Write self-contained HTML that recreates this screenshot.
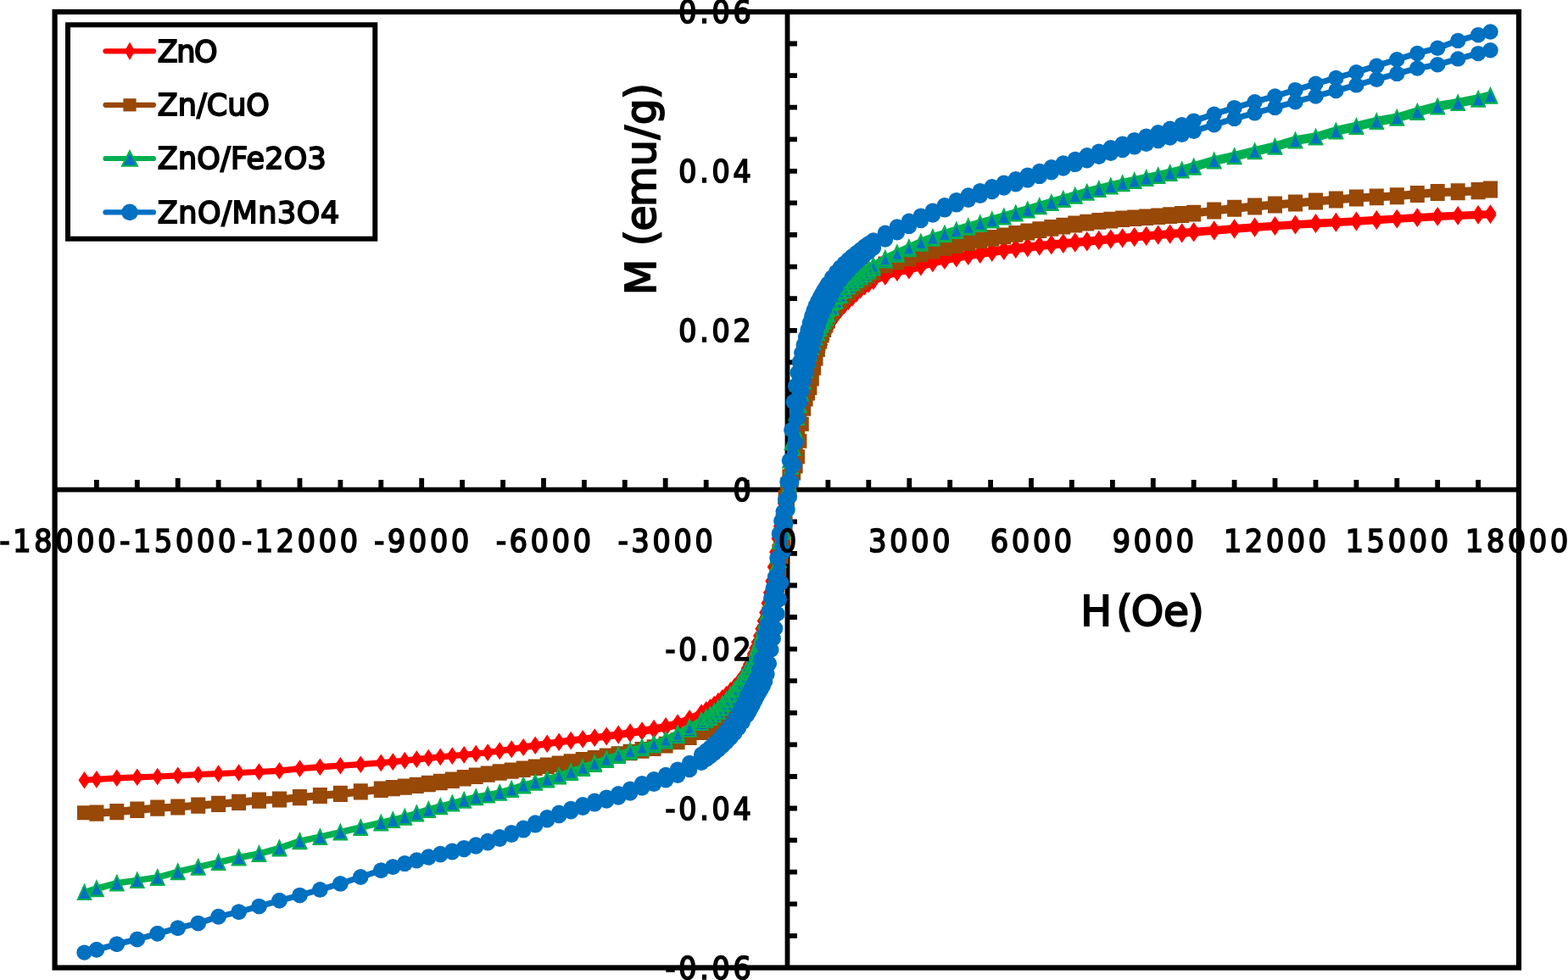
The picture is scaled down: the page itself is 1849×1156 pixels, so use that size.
<!DOCTYPE html>
<html><head><meta charset="utf-8"><title>M-H hysteresis</title>
<style>html,body{margin:0;padding:0;background:#fff;width:1849px;height:1156px;overflow:hidden}svg{display:block}</style>
</head><body>
<svg width="1849" height="1156" viewBox="0 0 1849 1156">
<rect width="1849" height="1156" fill="#fff"/>
<path d="M64.6 577.7H1791M928.5 14V1141.5" stroke="#000" stroke-width="5.8" fill="none"/>
<path d="M113.9 566V577 M161.8 566V577 M209.7 564V577 M257.6 566V577 M305.5 566V577 M353.5 564V577 M401.4 566V577 M449.3 566V577 M497.2 564V577 M545.1 566V577 M593.1 566V577 M641.0 564V577 M688.9 566V577 M736.8 566V577 M784.7 564V577 M832.7 566V577 M880.6 566V577 M976.4 566V577 M1024.3 566V577 M1072.3 564V577 M1120.2 566V577 M1168.1 566V577 M1216.0 564V577 M1263.9 566V577 M1311.9 566V577 M1359.8 564V577 M1407.7 566V577 M1455.6 566V577 M1503.5 564V577 M1551.5 566V577 M1599.4 566V577 M1647.3 564V577 M1695.2 566V577 M1743.1 566V577 M928.5 1103.9H940 M928.5 1066.3H940 M928.5 1028.7H940 M928.5 991.1H940 M928.5 953.5H940 M928.5 916.0H940 M928.5 878.4H940 M928.5 840.8H940 M928.5 803.2H940 M928.5 765.6H940 M928.5 728.0H940 M928.5 690.5H940 M928.5 652.9H940 M928.5 615.3H940 M928.5 540.1H940 M928.5 502.5H940 M928.5 464.9H940 M928.5 427.4H940 M928.5 389.8H940 M928.5 352.2H940 M928.5 314.6H940 M928.5 277.0H940 M928.5 239.4H940 M928.5 201.9H940 M928.5 164.3H940 M928.5 126.7H940 M928.5 89.1H940 M928.5 51.5H940" stroke="#000" stroke-width="5.8" fill="none"/>
<path d="M1757.5 251.5 L1743.1 252.2 L1719.2 253.2 L1695.2 254.3 L1671.3 255.5 L1647.3 256.9 L1623.3 258.3 L1599.4 259.7 L1575.4 261.0 L1551.5 262.3 L1527.5 263.7 L1503.5 265.2 L1479.6 266.8 L1455.6 268.5 L1431.7 270.4 L1407.7 272.3 L1393.7 273.5 L1379.7 274.6 L1365.7 275.8 L1351.7 276.9 L1337.7 278.1 L1323.7 279.4 L1309.8 280.6 L1295.8 281.9 L1281.8 283.2 L1267.8 284.4 L1253.8 285.7 L1239.8 287.1 L1225.8 288.5 L1211.8 290.0 L1197.8 291.6 L1183.8 293.4 L1169.8 295.3 L1155.8 297.3 L1141.8 299.4 L1127.8 301.8 L1113.9 304.3 L1099.9 307.1 L1085.9 311.0 L1071.9 315.3 L1057.9 318.2 L1043.9 322.1 L1029.9 327.2 L1024.3 329.9 L1019.5 332.7 L1014.8 336.0 L1010.0 339.9 L1005.2 344.4 L1000.4 349.0 L995.6 353.5 L990.8 358.4 L986.0 363.9 L981.2 370.0 L976.4 377.3 L974.0 381.5 L971.6 386.5 L969.2 392.4 L966.8 398.9 L964.4 405.7 L962.0 412.4 L959.6 419.0 L957.3 425.8 L954.9 432.9 L952.5 440.2 L950.1 447.4 L947.7 455.0 L945.3 463.4 L942.9 473.5 L940.5 485.8 L938.1 499.6 L935.7 514.3 L933.3 529.5 L930.9 546.2 L928.5 563.2 L926.1 579.0 L923.7 593.4 L921.3 607.1 L918.9 620.8 L916.5 635.2 L914.1 651.3 L911.7 668.8 L909.3 685.4 L906.9 699.3 L904.5 711.5 L902.1 722.6 L899.7 732.6 L897.4 741.7 L895.0 750.1 L892.6 757.7 L890.2 764.6 L887.8 771.2 L885.4 777.5 L883.0 783.4 L880.6 788.8 L875.8 797.6 L871.0 804.2 L866.2 809.7 L861.4 814.5 L856.6 818.9 L851.8 823.1 L847.0 827.0 L842.2 830.7 L837.5 834.2 L832.7 837.3 L827.1 840.5 L813.1 847.2 L799.1 852.4 L785.1 856.2 L771.1 859.0 L757.1 861.4 L743.1 863.5 L729.2 865.6 L715.2 867.6 L701.2 869.4 L687.2 871.2 L673.2 873.0 L659.2 874.8 L645.2 876.7 L631.2 878.8 L617.2 881.1 L603.2 883.4 L589.2 885.5 L575.2 887.4 L561.2 888.9 L547.2 890.2 L533.3 891.5 L519.3 892.7 L505.3 894.0 L491.3 895.5 L477.3 897.0 L463.3 898.4 L449.3 899.8 L425.3 901.6 L401.4 903.1 L377.4 904.6 L353.5 906.4 L329.5 909.1 L305.5 910.4 L281.6 911.4 L257.6 912.5 L233.7 913.6 L209.7 914.8 L185.7 915.9 L161.8 916.8 L137.8 917.7 L113.9 919.2 L99.5 920.3 L113.9 919.5 L137.8 917.9 L161.8 916.9 L185.7 916.1 L209.7 915.0 L233.7 913.8 L257.6 912.7 L281.6 911.6 L305.5 910.6 L329.5 909.4 L353.5 906.8 L377.4 904.9 L401.4 903.3 L425.3 901.8 L449.3 900.1 L463.3 898.8 L477.3 897.4 L491.3 895.9 L505.3 894.4 L519.3 893.1 L533.3 891.8 L547.2 890.6 L561.2 889.3 L575.2 887.8 L589.2 886.1 L603.2 884.1 L617.2 881.9 L631.2 879.8 L645.2 877.7 L659.2 875.9 L673.2 874.2 L687.2 872.6 L701.2 870.9 L715.2 869.3 L729.2 867.5 L743.1 865.5 L757.1 863.6 L771.1 861.4 L785.1 858.9 L799.1 855.6 L813.1 850.9 L827.1 844.8 L832.7 842.0 L837.5 839.1 L842.2 836.0 L847.0 832.6 L851.8 828.9 L856.6 824.9 L861.4 820.7 L866.2 816.4 L871.0 811.5 L875.8 805.9 L880.6 799.1 L883.0 794.9 L885.4 790.0 L887.8 784.4 L890.2 778.3 L892.6 772.0 L895.0 765.4 L897.4 758.2 L899.7 750.4 L902.1 741.8 L904.5 732.4 L906.9 722.0 L909.3 710.6 L911.7 698.0 L914.1 683.2 L916.5 666.0 L918.9 648.7 L921.3 633.3 L923.7 619.3 L926.1 605.6 L928.5 591.7 L930.9 577.0 L933.3 560.6 L935.7 543.6 L938.1 527.3 L940.5 512.4 L942.9 497.9 L945.3 484.5 L947.7 472.9 L950.1 463.5 L952.5 455.4 L954.9 448.0 L957.3 440.7 L959.6 433.5 L962.0 426.5 L964.4 419.8 L966.8 413.2 L969.2 406.4 L971.6 399.7 L974.0 393.3 L976.4 387.7 L981.2 379.0 L986.0 371.9 L990.8 365.9 L995.6 360.5 L1000.4 355.8 L1005.2 351.3 L1010.0 346.6 L1014.8 342.1 L1019.5 338.4 L1024.3 335.2 L1029.9 332.0 L1043.9 326.5 L1057.9 321.9 L1071.9 319.3 L1085.9 315.3 L1099.9 311.0 L1113.9 307.9 L1127.8 305.3 L1141.8 302.9 L1155.8 300.7 L1169.8 298.6 L1183.8 296.7 L1197.8 294.9 L1211.8 293.2 L1225.8 291.6 L1239.8 290.2 L1253.8 288.8 L1267.8 287.5 L1281.8 286.2 L1295.8 284.9 L1309.8 283.6 L1323.7 282.3 L1337.7 281.1 L1351.7 279.8 L1365.7 278.6 L1379.7 277.5 L1393.7 276.3 L1407.7 275.2 L1431.7 273.2 L1455.6 271.3 L1479.6 269.5 L1503.5 267.8 L1527.5 266.3 L1551.5 264.9 L1575.4 263.5 L1599.4 262.2 L1623.3 260.8 L1647.3 259.3 L1671.3 257.9 L1695.2 256.6 L1719.2 255.5 L1743.1 254.5 L1757.5 253.8" fill="none" stroke="#FF0000" stroke-width="7" stroke-linejoin="round" stroke-linecap="round"/>
<path d="M1757.5 241.3L1764.5 251.5L1757.5 261.7L1750.5 251.5ZM1743.1 242.0L1750.1 252.2L1743.1 262.4L1736.1 252.2ZM1719.2 243.0L1726.2 253.2L1719.2 263.4L1712.2 253.2ZM1695.2 244.1L1702.2 254.3L1695.2 264.5L1688.2 254.3ZM1671.3 245.3L1678.3 255.5L1671.3 265.7L1664.3 255.5ZM1647.3 246.7L1654.3 256.9L1647.3 267.1L1640.3 256.9ZM1623.3 248.1L1630.3 258.3L1623.3 268.5L1616.3 258.3ZM1599.4 249.5L1606.4 259.7L1599.4 269.9L1592.4 259.7ZM1575.4 250.8L1582.4 261.0L1575.4 271.2L1568.4 261.0ZM1551.5 252.1L1558.5 262.3L1551.5 272.5L1544.5 262.3ZM1527.5 253.5L1534.5 263.7L1527.5 273.9L1520.5 263.7ZM1503.5 255.0L1510.5 265.2L1503.5 275.4L1496.5 265.2ZM1479.6 256.6L1486.6 266.8L1479.6 277.0L1472.6 266.8ZM1455.6 258.3L1462.6 268.5L1455.6 278.7L1448.6 268.5ZM1431.7 260.2L1438.7 270.4L1431.7 280.6L1424.7 270.4ZM1407.7 262.1L1414.7 272.3L1407.7 282.5L1400.7 272.3ZM1393.7 263.3L1400.7 273.5L1393.7 283.7L1386.7 273.5ZM1379.7 264.4L1386.7 274.6L1379.7 284.8L1372.7 274.6ZM1365.7 265.6L1372.7 275.8L1365.7 286.0L1358.7 275.8ZM1351.7 266.7L1358.7 276.9L1351.7 287.1L1344.7 276.9ZM1337.7 267.9L1344.7 278.1L1337.7 288.3L1330.7 278.1ZM1323.7 269.2L1330.7 279.4L1323.7 289.6L1316.7 279.4ZM1309.8 270.4L1316.8 280.6L1309.8 290.8L1302.8 280.6ZM1295.8 271.7L1302.8 281.9L1295.8 292.1L1288.8 281.9ZM1281.8 273.0L1288.8 283.2L1281.8 293.4L1274.8 283.2ZM1267.8 274.2L1274.8 284.4L1267.8 294.6L1260.8 284.4ZM1253.8 275.5L1260.8 285.7L1253.8 295.9L1246.8 285.7ZM1239.8 276.9L1246.8 287.1L1239.8 297.3L1232.8 287.1ZM1225.8 278.3L1232.8 288.5L1225.8 298.7L1218.8 288.5ZM1211.8 279.8L1218.8 290.0L1211.8 300.2L1204.8 290.0ZM1197.8 281.4L1204.8 291.6L1197.8 301.8L1190.8 291.6ZM1183.8 283.2L1190.8 293.4L1183.8 303.6L1176.8 293.4ZM1169.8 285.1L1176.8 295.3L1169.8 305.5L1162.8 295.3ZM1155.8 287.1L1162.8 297.3L1155.8 307.5L1148.8 297.3ZM1141.8 289.2L1148.8 299.4L1141.8 309.6L1134.8 299.4ZM1127.8 291.6L1134.8 301.8L1127.8 312.0L1120.8 301.8ZM1113.9 294.1L1120.9 304.3L1113.9 314.5L1106.9 304.3ZM1099.9 296.9L1106.9 307.1L1099.9 317.3L1092.9 307.1ZM1085.9 300.8L1092.9 311.0L1085.9 321.2L1078.9 311.0ZM1071.9 305.1L1078.9 315.3L1071.9 325.5L1064.9 315.3ZM1057.9 308.0L1064.9 318.2L1057.9 328.4L1050.9 318.2ZM1043.9 311.9L1050.9 322.1L1043.9 332.3L1036.9 322.1ZM1029.9 317.0L1036.9 327.2L1029.9 337.4L1022.9 327.2ZM1024.3 319.7L1031.3 329.9L1024.3 340.1L1017.3 329.9ZM1019.5 322.5L1026.5 332.7L1019.5 342.9L1012.5 332.7ZM1014.8 325.8L1021.8 336.0L1014.8 346.2L1007.8 336.0ZM1010.0 329.7L1017.0 339.9L1010.0 350.1L1003.0 339.9ZM1005.2 334.2L1012.2 344.4L1005.2 354.6L998.2 344.4ZM1000.4 338.8L1007.4 349.0L1000.4 359.2L993.4 349.0ZM995.6 343.3L1002.6 353.5L995.6 363.7L988.6 353.5ZM990.8 348.2L997.8 358.4L990.8 368.6L983.8 358.4ZM986.0 353.7L993.0 363.9L986.0 374.1L979.0 363.9ZM981.2 359.8L988.2 370.0L981.2 380.2L974.2 370.0ZM976.4 367.1L983.4 377.3L976.4 387.5L969.4 377.3ZM974.0 371.3L981.0 381.5L974.0 391.7L967.0 381.5ZM971.6 376.3L978.6 386.5L971.6 396.7L964.6 386.5ZM969.2 382.2L976.2 392.4L969.2 402.6L962.2 392.4ZM966.8 388.7L973.8 398.9L966.8 409.1L959.8 398.9ZM964.4 395.5L971.4 405.7L964.4 415.9L957.4 405.7ZM962.0 402.2L969.0 412.4L962.0 422.6L955.0 412.4ZM959.6 408.8L966.6 419.0L959.6 429.2L952.6 419.0ZM957.3 415.6L964.3 425.8L957.3 436.0L950.3 425.8ZM954.9 422.7L961.9 432.9L954.9 443.1L947.9 432.9ZM952.5 430.0L959.5 440.2L952.5 450.4L945.5 440.2ZM950.1 437.2L957.1 447.4L950.1 457.6L943.1 447.4ZM947.7 444.8L954.7 455.0L947.7 465.2L940.7 455.0ZM945.3 453.2L952.3 463.4L945.3 473.6L938.3 463.4ZM942.9 463.3L949.9 473.5L942.9 483.7L935.9 473.5ZM940.5 475.6L947.5 485.8L940.5 496.0L933.5 485.8ZM938.1 489.4L945.1 499.6L938.1 509.8L931.1 499.6ZM935.7 504.1L942.7 514.3L935.7 524.5L928.7 514.3ZM933.3 519.3L940.3 529.5L933.3 539.7L926.3 529.5ZM930.9 536.0L937.9 546.2L930.9 556.4L923.9 546.2ZM928.5 553.0L935.5 563.2L928.5 573.4L921.5 563.2ZM926.1 568.8L933.1 579.0L926.1 589.2L919.1 579.0ZM923.7 583.2L930.7 593.4L923.7 603.6L916.7 593.4ZM921.3 596.9L928.3 607.1L921.3 617.3L914.3 607.1ZM918.9 610.6L925.9 620.8L918.9 631.0L911.9 620.8ZM916.5 625.0L923.5 635.2L916.5 645.4L909.5 635.2ZM914.1 641.1L921.1 651.3L914.1 661.5L907.1 651.3ZM911.7 658.6L918.7 668.8L911.7 679.0L904.7 668.8ZM909.3 675.2L916.3 685.4L909.3 695.6L902.3 685.4ZM906.9 689.1L913.9 699.3L906.9 709.5L899.9 699.3ZM904.5 701.3L911.5 711.5L904.5 721.7L897.5 711.5ZM902.1 712.4L909.1 722.6L902.1 732.8L895.1 722.6ZM899.7 722.4L906.7 732.6L899.7 742.8L892.7 732.6ZM897.4 731.5L904.4 741.7L897.4 751.9L890.4 741.7ZM895.0 739.9L902.0 750.1L895.0 760.3L888.0 750.1ZM892.6 747.5L899.6 757.7L892.6 767.9L885.6 757.7ZM890.2 754.4L897.2 764.6L890.2 774.8L883.2 764.6ZM887.8 761.0L894.8 771.2L887.8 781.4L880.8 771.2ZM885.4 767.3L892.4 777.5L885.4 787.7L878.4 777.5ZM883.0 773.2L890.0 783.4L883.0 793.6L876.0 783.4ZM880.6 778.6L887.6 788.8L880.6 799.0L873.6 788.8ZM875.8 787.4L882.8 797.6L875.8 807.8L868.8 797.6ZM871.0 794.0L878.0 804.2L871.0 814.4L864.0 804.2ZM866.2 799.5L873.2 809.7L866.2 819.9L859.2 809.7ZM861.4 804.3L868.4 814.5L861.4 824.7L854.4 814.5ZM856.6 808.7L863.6 818.9L856.6 829.1L849.6 818.9ZM851.8 812.9L858.8 823.1L851.8 833.3L844.8 823.1ZM847.0 816.8L854.0 827.0L847.0 837.2L840.0 827.0ZM842.2 820.5L849.2 830.7L842.2 840.9L835.2 830.7ZM837.5 824.0L844.5 834.2L837.5 844.4L830.5 834.2ZM832.7 827.1L839.7 837.3L832.7 847.5L825.7 837.3ZM827.1 830.3L834.1 840.5L827.1 850.7L820.1 840.5ZM813.1 837.0L820.1 847.2L813.1 857.4L806.1 847.2ZM799.1 842.2L806.1 852.4L799.1 862.6L792.1 852.4ZM785.1 846.0L792.1 856.2L785.1 866.4L778.1 856.2ZM771.1 848.8L778.1 859.0L771.1 869.2L764.1 859.0ZM757.1 851.2L764.1 861.4L757.1 871.6L750.1 861.4ZM743.1 853.3L750.1 863.5L743.1 873.7L736.1 863.5ZM729.2 855.4L736.2 865.6L729.2 875.8L722.2 865.6ZM715.2 857.4L722.2 867.6L715.2 877.8L708.2 867.6ZM701.2 859.2L708.2 869.4L701.2 879.6L694.2 869.4ZM687.2 861.0L694.2 871.2L687.2 881.4L680.2 871.2ZM673.2 862.8L680.2 873.0L673.2 883.2L666.2 873.0ZM659.2 864.6L666.2 874.8L659.2 885.0L652.2 874.8ZM645.2 866.5L652.2 876.7L645.2 886.9L638.2 876.7ZM631.2 868.6L638.2 878.8L631.2 889.0L624.2 878.8ZM617.2 870.9L624.2 881.1L617.2 891.3L610.2 881.1ZM603.2 873.2L610.2 883.4L603.2 893.6L596.2 883.4ZM589.2 875.3L596.2 885.5L589.2 895.7L582.2 885.5ZM575.2 877.2L582.2 887.4L575.2 897.6L568.2 887.4ZM561.2 878.7L568.2 888.9L561.2 899.1L554.2 888.9ZM547.2 880.0L554.2 890.2L547.2 900.4L540.2 890.2ZM533.3 881.3L540.3 891.5L533.3 901.7L526.3 891.5ZM519.3 882.5L526.3 892.7L519.3 902.9L512.3 892.7ZM505.3 883.8L512.3 894.0L505.3 904.2L498.3 894.0ZM491.3 885.3L498.3 895.5L491.3 905.7L484.3 895.5ZM477.3 886.8L484.3 897.0L477.3 907.2L470.3 897.0ZM463.3 888.2L470.3 898.4L463.3 908.6L456.3 898.4ZM449.3 889.6L456.3 899.8L449.3 910.0L442.3 899.8ZM425.3 891.4L432.3 901.6L425.3 911.8L418.3 901.6ZM401.4 892.9L408.4 903.1L401.4 913.3L394.4 903.1ZM377.4 894.4L384.4 904.6L377.4 914.8L370.4 904.6ZM353.5 896.2L360.5 906.4L353.5 916.6L346.5 906.4ZM329.5 898.9L336.5 909.1L329.5 919.3L322.5 909.1ZM305.5 900.2L312.5 910.4L305.5 920.6L298.5 910.4ZM281.6 901.2L288.6 911.4L281.6 921.6L274.6 911.4ZM257.6 902.3L264.6 912.5L257.6 922.7L250.6 912.5ZM233.7 903.4L240.7 913.6L233.7 923.8L226.7 913.6ZM209.7 904.6L216.7 914.8L209.7 925.0L202.7 914.8ZM185.7 905.7L192.7 915.9L185.7 926.1L178.7 915.9ZM161.8 906.6L168.8 916.8L161.8 927.0L154.8 916.8ZM137.8 907.5L144.8 917.7L137.8 927.9L130.8 917.7ZM113.9 909.0L120.9 919.2L113.9 929.4L106.9 919.2ZM99.5 910.1L106.5 920.3L99.5 930.5L92.5 920.3ZM113.9 909.3L120.9 919.5L113.9 929.7L106.9 919.5ZM137.8 907.7L144.8 917.9L137.8 928.1L130.8 917.9ZM161.8 906.7L168.8 916.9L161.8 927.1L154.8 916.9ZM185.7 905.9L192.7 916.1L185.7 926.3L178.7 916.1ZM209.7 904.8L216.7 915.0L209.7 925.2L202.7 915.0ZM233.7 903.6L240.7 913.8L233.7 924.0L226.7 913.8ZM257.6 902.5L264.6 912.7L257.6 922.9L250.6 912.7ZM281.6 901.4L288.6 911.6L281.6 921.8L274.6 911.6ZM305.5 900.4L312.5 910.6L305.5 920.8L298.5 910.6ZM329.5 899.2L336.5 909.4L329.5 919.6L322.5 909.4ZM353.5 896.6L360.5 906.8L353.5 917.0L346.5 906.8ZM377.4 894.7L384.4 904.9L377.4 915.1L370.4 904.9ZM401.4 893.1L408.4 903.3L401.4 913.5L394.4 903.3ZM425.3 891.6L432.3 901.8L425.3 912.0L418.3 901.8ZM449.3 889.9L456.3 900.1L449.3 910.3L442.3 900.1ZM463.3 888.6L470.3 898.8L463.3 909.0L456.3 898.8ZM477.3 887.2L484.3 897.4L477.3 907.6L470.3 897.4ZM491.3 885.7L498.3 895.9L491.3 906.1L484.3 895.9ZM505.3 884.2L512.3 894.4L505.3 904.6L498.3 894.4ZM519.3 882.9L526.3 893.1L519.3 903.3L512.3 893.1ZM533.3 881.6L540.3 891.8L533.3 902.0L526.3 891.8ZM547.2 880.4L554.2 890.6L547.2 900.8L540.2 890.6ZM561.2 879.1L568.2 889.3L561.2 899.5L554.2 889.3ZM575.2 877.6L582.2 887.8L575.2 898.0L568.2 887.8ZM589.2 875.9L596.2 886.1L589.2 896.3L582.2 886.1ZM603.2 873.9L610.2 884.1L603.2 894.3L596.2 884.1ZM617.2 871.7L624.2 881.9L617.2 892.1L610.2 881.9ZM631.2 869.6L638.2 879.8L631.2 890.0L624.2 879.8ZM645.2 867.5L652.2 877.7L645.2 887.9L638.2 877.7ZM659.2 865.7L666.2 875.9L659.2 886.1L652.2 875.9ZM673.2 864.0L680.2 874.2L673.2 884.4L666.2 874.2ZM687.2 862.4L694.2 872.6L687.2 882.8L680.2 872.6ZM701.2 860.7L708.2 870.9L701.2 881.1L694.2 870.9ZM715.2 859.1L722.2 869.3L715.2 879.5L708.2 869.3ZM729.2 857.3L736.2 867.5L729.2 877.7L722.2 867.5ZM743.1 855.3L750.1 865.5L743.1 875.7L736.1 865.5ZM757.1 853.4L764.1 863.6L757.1 873.8L750.1 863.6ZM771.1 851.2L778.1 861.4L771.1 871.6L764.1 861.4ZM785.1 848.7L792.1 858.9L785.1 869.1L778.1 858.9ZM799.1 845.4L806.1 855.6L799.1 865.8L792.1 855.6ZM813.1 840.7L820.1 850.9L813.1 861.1L806.1 850.9ZM827.1 834.6L834.1 844.8L827.1 855.0L820.1 844.8ZM832.7 831.8L839.7 842.0L832.7 852.2L825.7 842.0ZM837.5 828.9L844.5 839.1L837.5 849.3L830.5 839.1ZM842.2 825.8L849.2 836.0L842.2 846.2L835.2 836.0ZM847.0 822.4L854.0 832.6L847.0 842.8L840.0 832.6ZM851.8 818.7L858.8 828.9L851.8 839.1L844.8 828.9ZM856.6 814.7L863.6 824.9L856.6 835.1L849.6 824.9ZM861.4 810.5L868.4 820.7L861.4 830.9L854.4 820.7ZM866.2 806.2L873.2 816.4L866.2 826.6L859.2 816.4ZM871.0 801.3L878.0 811.5L871.0 821.7L864.0 811.5ZM875.8 795.7L882.8 805.9L875.8 816.1L868.8 805.9ZM880.6 788.9L887.6 799.1L880.6 809.3L873.6 799.1ZM883.0 784.7L890.0 794.9L883.0 805.1L876.0 794.9ZM885.4 779.8L892.4 790.0L885.4 800.2L878.4 790.0ZM887.8 774.2L894.8 784.4L887.8 794.6L880.8 784.4ZM890.2 768.1L897.2 778.3L890.2 788.5L883.2 778.3ZM892.6 761.8L899.6 772.0L892.6 782.2L885.6 772.0ZM895.0 755.2L902.0 765.4L895.0 775.6L888.0 765.4ZM897.4 748.0L904.4 758.2L897.4 768.4L890.4 758.2ZM899.7 740.2L906.7 750.4L899.7 760.6L892.7 750.4ZM902.1 731.6L909.1 741.8L902.1 752.0L895.1 741.8ZM904.5 722.2L911.5 732.4L904.5 742.6L897.5 732.4ZM906.9 711.8L913.9 722.0L906.9 732.2L899.9 722.0ZM909.3 700.4L916.3 710.6L909.3 720.8L902.3 710.6ZM911.7 687.8L918.7 698.0L911.7 708.2L904.7 698.0ZM914.1 673.0L921.1 683.2L914.1 693.4L907.1 683.2ZM916.5 655.8L923.5 666.0L916.5 676.2L909.5 666.0ZM918.9 638.5L925.9 648.7L918.9 658.9L911.9 648.7ZM921.3 623.1L928.3 633.3L921.3 643.5L914.3 633.3ZM923.7 609.1L930.7 619.3L923.7 629.5L916.7 619.3ZM926.1 595.4L933.1 605.6L926.1 615.8L919.1 605.6ZM928.5 581.5L935.5 591.7L928.5 601.9L921.5 591.7ZM930.9 566.8L937.9 577.0L930.9 587.2L923.9 577.0ZM933.3 550.4L940.3 560.6L933.3 570.8L926.3 560.6ZM935.7 533.4L942.7 543.6L935.7 553.8L928.7 543.6ZM938.1 517.1L945.1 527.3L938.1 537.5L931.1 527.3ZM940.5 502.2L947.5 512.4L940.5 522.6L933.5 512.4ZM942.9 487.7L949.9 497.9L942.9 508.1L935.9 497.9ZM945.3 474.3L952.3 484.5L945.3 494.7L938.3 484.5ZM947.7 462.7L954.7 472.9L947.7 483.1L940.7 472.9ZM950.1 453.3L957.1 463.5L950.1 473.7L943.1 463.5ZM952.5 445.2L959.5 455.4L952.5 465.6L945.5 455.4ZM954.9 437.8L961.9 448.0L954.9 458.2L947.9 448.0ZM957.3 430.5L964.3 440.7L957.3 450.9L950.3 440.7ZM959.6 423.3L966.6 433.5L959.6 443.7L952.6 433.5ZM962.0 416.3L969.0 426.5L962.0 436.7L955.0 426.5ZM964.4 409.6L971.4 419.8L964.4 430.0L957.4 419.8ZM966.8 403.0L973.8 413.2L966.8 423.4L959.8 413.2ZM969.2 396.2L976.2 406.4L969.2 416.6L962.2 406.4ZM971.6 389.5L978.6 399.7L971.6 409.9L964.6 399.7ZM974.0 383.1L981.0 393.3L974.0 403.5L967.0 393.3ZM976.4 377.5L983.4 387.7L976.4 397.9L969.4 387.7ZM981.2 368.8L988.2 379.0L981.2 389.2L974.2 379.0ZM986.0 361.7L993.0 371.9L986.0 382.1L979.0 371.9ZM990.8 355.7L997.8 365.9L990.8 376.1L983.8 365.9ZM995.6 350.3L1002.6 360.5L995.6 370.7L988.6 360.5ZM1000.4 345.6L1007.4 355.8L1000.4 366.0L993.4 355.8ZM1005.2 341.1L1012.2 351.3L1005.2 361.5L998.2 351.3ZM1010.0 336.4L1017.0 346.6L1010.0 356.8L1003.0 346.6ZM1014.8 331.9L1021.8 342.1L1014.8 352.3L1007.8 342.1ZM1019.5 328.2L1026.5 338.4L1019.5 348.6L1012.5 338.4ZM1024.3 325.0L1031.3 335.2L1024.3 345.4L1017.3 335.2ZM1029.9 321.8L1036.9 332.0L1029.9 342.2L1022.9 332.0ZM1043.9 316.3L1050.9 326.5L1043.9 336.7L1036.9 326.5ZM1057.9 311.7L1064.9 321.9L1057.9 332.1L1050.9 321.9ZM1071.9 309.1L1078.9 319.3L1071.9 329.5L1064.9 319.3ZM1085.9 305.1L1092.9 315.3L1085.9 325.5L1078.9 315.3ZM1099.9 300.8L1106.9 311.0L1099.9 321.2L1092.9 311.0ZM1113.9 297.7L1120.9 307.9L1113.9 318.1L1106.9 307.9ZM1127.8 295.1L1134.8 305.3L1127.8 315.5L1120.8 305.3ZM1141.8 292.7L1148.8 302.9L1141.8 313.1L1134.8 302.9ZM1155.8 290.5L1162.8 300.7L1155.8 310.9L1148.8 300.7ZM1169.8 288.4L1176.8 298.6L1169.8 308.8L1162.8 298.6ZM1183.8 286.5L1190.8 296.7L1183.8 306.9L1176.8 296.7ZM1197.8 284.7L1204.8 294.9L1197.8 305.1L1190.8 294.9ZM1211.8 283.0L1218.8 293.2L1211.8 303.4L1204.8 293.2ZM1225.8 281.4L1232.8 291.6L1225.8 301.8L1218.8 291.6ZM1239.8 280.0L1246.8 290.2L1239.8 300.4L1232.8 290.2ZM1253.8 278.6L1260.8 288.8L1253.8 299.0L1246.8 288.8ZM1267.8 277.3L1274.8 287.5L1267.8 297.7L1260.8 287.5ZM1281.8 276.0L1288.8 286.2L1281.8 296.4L1274.8 286.2ZM1295.8 274.7L1302.8 284.9L1295.8 295.1L1288.8 284.9ZM1309.8 273.4L1316.8 283.6L1309.8 293.8L1302.8 283.6ZM1323.7 272.1L1330.7 282.3L1323.7 292.5L1316.7 282.3ZM1337.7 270.9L1344.7 281.1L1337.7 291.3L1330.7 281.1ZM1351.7 269.6L1358.7 279.8L1351.7 290.0L1344.7 279.8ZM1365.7 268.4L1372.7 278.6L1365.7 288.8L1358.7 278.6ZM1379.7 267.3L1386.7 277.5L1379.7 287.7L1372.7 277.5ZM1393.7 266.1L1400.7 276.3L1393.7 286.5L1386.7 276.3ZM1407.7 265.0L1414.7 275.2L1407.7 285.4L1400.7 275.2ZM1431.7 263.0L1438.7 273.2L1431.7 283.4L1424.7 273.2ZM1455.6 261.1L1462.6 271.3L1455.6 281.5L1448.6 271.3ZM1479.6 259.3L1486.6 269.5L1479.6 279.7L1472.6 269.5ZM1503.5 257.6L1510.5 267.8L1503.5 278.0L1496.5 267.8ZM1527.5 256.1L1534.5 266.3L1527.5 276.5L1520.5 266.3ZM1551.5 254.7L1558.5 264.9L1551.5 275.1L1544.5 264.9ZM1575.4 253.3L1582.4 263.5L1575.4 273.7L1568.4 263.5ZM1599.4 252.0L1606.4 262.2L1599.4 272.4L1592.4 262.2ZM1623.3 250.6L1630.3 260.8L1623.3 271.0L1616.3 260.8ZM1647.3 249.1L1654.3 259.3L1647.3 269.5L1640.3 259.3ZM1671.3 247.7L1678.3 257.9L1671.3 268.1L1664.3 257.9ZM1695.2 246.4L1702.2 256.6L1695.2 266.8L1688.2 256.6ZM1719.2 245.3L1726.2 255.5L1719.2 265.7L1712.2 255.5ZM1743.1 244.3L1750.1 254.5L1743.1 264.7L1736.1 254.5ZM1757.5 243.6L1764.5 253.8L1757.5 264.0L1750.5 253.8Z" fill="#FF0000"/>
<path d="M1757.5 221.9 L1743.1 223.6 L1719.2 224.7 L1695.2 225.5 L1671.3 227.5 L1647.3 229.7 L1623.3 230.9 L1599.4 232.1 L1575.4 234.0 L1551.5 236.1 L1527.5 238.1 L1503.5 240.1 L1479.6 242.1 L1455.6 244.3 L1431.7 247.1 L1407.7 250.2 L1393.7 251.6 L1379.7 252.8 L1365.7 253.9 L1351.7 254.9 L1337.7 255.9 L1323.7 257.0 L1309.8 258.2 L1295.8 259.6 L1281.8 261.3 L1267.8 263.1 L1253.8 265.2 L1239.8 267.4 L1225.8 269.7 L1211.8 272.1 L1197.8 274.5 L1183.8 276.9 L1169.8 279.4 L1155.8 282.0 L1141.8 284.8 L1127.8 287.7 L1113.9 290.8 L1099.9 294.1 L1085.9 298.0 L1071.9 302.6 L1057.9 306.9 L1043.9 311.0 L1029.9 318.1 L1024.3 322.1 L1019.5 325.6 L1014.8 329.4 L1010.0 333.2 L1005.2 337.1 L1000.4 341.3 L995.6 345.8 L990.8 350.5 L986.0 356.0 L981.2 362.8 L976.4 371.1 L974.0 375.8 L971.6 380.7 L969.2 386.1 L966.8 392.1 L964.4 399.2 L962.0 407.9 L959.6 418.3 L957.3 429.4 L954.9 441.8 L952.5 453.3 L950.1 460.6 L947.7 467.1 L945.3 476.7 L942.9 493.6 L940.5 512.8 L938.1 533.0 L935.7 545.5 L933.3 554.2 L930.9 562.1 L928.5 571.8 L926.1 586.8 L923.7 608.9 L921.3 630.5 L918.9 649.9 L916.5 668.5 L914.1 685.1 L911.7 699.4 L909.3 712.3 L906.9 724.1 L904.5 734.7 L902.1 744.4 L899.7 753.3 L897.4 761.6 L895.0 769.2 L892.6 776.2 L890.2 782.5 L887.8 788.4 L885.4 794.1 L883.0 799.4 L880.6 804.4 L875.8 813.3 L871.0 820.8 L866.2 827.6 L861.4 833.8 L856.6 839.3 L851.8 844.1 L847.0 848.2 L842.2 851.7 L837.5 854.9 L832.7 857.8 L827.1 860.9 L813.1 867.3 L799.1 872.7 L785.1 877.2 L771.1 880.8 L757.1 883.6 L743.1 886.2 L729.2 888.7 L715.2 891.1 L701.2 893.4 L687.2 895.6 L673.2 897.8 L659.2 899.9 L645.2 902.0 L631.2 904.0 L617.2 906.0 L603.2 907.9 L589.2 909.8 L575.2 911.9 L561.2 914.1 L547.2 916.5 L533.3 918.9 L519.3 921.2 L505.3 923.3 L491.3 925.2 L477.3 926.9 L463.3 928.5 L449.3 930.0 L425.3 932.7 L401.4 935.3 L377.4 937.4 L353.5 939.5 L329.5 941.9 L305.5 943.0 L281.6 945.2 L257.6 947.2 L233.7 949.1 L209.7 950.9 L185.7 952.0 L161.8 954.1 L137.8 956.4 L113.9 958.1 L99.5 958.7 L113.9 960.2 L137.8 958.7 L161.8 956.4 L185.7 954.2 L209.7 953.1 L233.7 951.3 L257.6 949.4 L281.6 947.4 L305.5 945.2 L329.5 944.1 L353.5 941.8 L377.4 939.6 L401.4 937.6 L425.3 935.1 L449.3 932.4 L463.3 930.8 L477.3 929.2 L491.3 927.6 L505.3 925.7 L519.3 923.7 L533.3 921.4 L547.2 919.0 L561.2 916.6 L575.2 914.3 L589.2 912.3 L603.2 910.3 L617.2 908.4 L631.2 906.5 L645.2 904.5 L659.2 902.4 L673.2 900.2 L687.2 898.1 L701.2 895.9 L715.2 893.6 L729.2 891.2 L743.1 888.7 L757.1 886.2 L771.1 883.4 L785.1 880.0 L799.1 875.8 L813.1 870.6 L827.1 864.4 L832.7 861.5 L837.5 858.8 L842.2 855.8 L847.0 852.4 L851.8 848.7 L856.6 844.4 L861.4 839.4 L866.2 833.6 L871.0 827.2 L875.8 820.1 L880.6 812.1 L883.0 807.6 L885.4 802.7 L887.8 797.4 L890.2 791.9 L892.6 786.0 L895.0 779.8 L897.4 773.0 L899.7 765.6 L902.1 757.5 L904.5 748.7 L906.9 739.2 L909.3 728.9 L911.7 717.4 L914.1 704.7 L916.5 690.9 L918.9 674.9 L921.3 656.7 L923.7 637.4 L926.1 616.7 L928.5 593.9 L930.9 576.8 L933.3 566.3 L935.7 558.2 L938.1 549.9 L940.5 538.8 L942.9 520.2 L945.3 500.3 L947.7 482.3 L950.1 471.0 L952.5 464.1 L954.9 457.4 L957.3 447.1 L959.6 434.2 L962.0 423.0 L964.4 412.4 L966.8 403.2 L969.2 395.8 L971.6 389.5 L974.0 384.0 L976.4 379.0 L981.2 369.8 L986.0 362.1 L990.8 355.9 L995.6 350.7 L1000.4 346.1 L1005.2 341.7 L1010.0 337.7 L1014.8 333.8 L1019.5 330.0 L1024.3 326.3 L1029.9 322.3 L1043.9 314.1 L1057.9 309.9 L1071.9 305.7 L1085.9 301.1 L1099.9 297.0 L1113.9 293.6 L1127.8 290.5 L1141.8 287.5 L1155.8 284.8 L1169.8 282.2 L1183.8 279.7 L1197.8 277.3 L1211.8 274.9 L1225.8 272.5 L1239.8 270.2 L1253.8 268.0 L1267.8 265.9 L1281.8 264.0 L1295.8 262.3 L1309.8 260.9 L1323.7 259.6 L1337.7 258.6 L1351.7 257.6 L1365.7 256.6 L1379.7 255.5 L1393.7 254.4 L1407.7 253.0 L1431.7 250.0 L1455.6 247.2 L1479.6 245.0 L1503.5 243.0 L1527.5 241.0 L1551.5 239.0 L1575.4 237.0 L1599.4 235.1 L1623.3 233.8 L1647.3 232.7 L1671.3 230.6 L1695.2 228.6 L1719.2 227.7 L1743.1 226.7 L1757.5 225.1" fill="none" stroke="#984807" stroke-width="7" stroke-linejoin="round" stroke-linecap="round"/>
<path d="M1749.0 213.4h17.0v17.0h-17.0ZM1734.6 215.1h17.0v17.0h-17.0ZM1710.7 216.2h17.0v17.0h-17.0ZM1686.7 217.0h17.0v17.0h-17.0ZM1662.8 219.0h17.0v17.0h-17.0ZM1638.8 221.2h17.0v17.0h-17.0ZM1614.8 222.4h17.0v17.0h-17.0ZM1590.9 223.6h17.0v17.0h-17.0ZM1566.9 225.5h17.0v17.0h-17.0ZM1543.0 227.6h17.0v17.0h-17.0ZM1519.0 229.6h17.0v17.0h-17.0ZM1495.0 231.6h17.0v17.0h-17.0ZM1471.1 233.6h17.0v17.0h-17.0ZM1447.1 235.8h17.0v17.0h-17.0ZM1423.2 238.6h17.0v17.0h-17.0ZM1399.2 241.7h17.0v17.0h-17.0ZM1385.2 243.1h17.0v17.0h-17.0ZM1371.2 244.3h17.0v17.0h-17.0ZM1357.2 245.4h17.0v17.0h-17.0ZM1343.2 246.4h17.0v17.0h-17.0ZM1329.2 247.4h17.0v17.0h-17.0ZM1315.2 248.5h17.0v17.0h-17.0ZM1301.3 249.7h17.0v17.0h-17.0ZM1287.3 251.1h17.0v17.0h-17.0ZM1273.3 252.8h17.0v17.0h-17.0ZM1259.3 254.6h17.0v17.0h-17.0ZM1245.3 256.7h17.0v17.0h-17.0ZM1231.3 258.9h17.0v17.0h-17.0ZM1217.3 261.2h17.0v17.0h-17.0ZM1203.3 263.6h17.0v17.0h-17.0ZM1189.3 266.0h17.0v17.0h-17.0ZM1175.3 268.4h17.0v17.0h-17.0ZM1161.3 270.9h17.0v17.0h-17.0ZM1147.3 273.5h17.0v17.0h-17.0ZM1133.3 276.3h17.0v17.0h-17.0ZM1119.3 279.2h17.0v17.0h-17.0ZM1105.4 282.3h17.0v17.0h-17.0ZM1091.4 285.6h17.0v17.0h-17.0ZM1077.4 289.5h17.0v17.0h-17.0ZM1063.4 294.1h17.0v17.0h-17.0ZM1049.4 298.4h17.0v17.0h-17.0ZM1035.4 302.5h17.0v17.0h-17.0ZM1021.4 309.6h17.0v17.0h-17.0ZM1015.8 313.6h17.0v17.0h-17.0ZM1011.0 317.1h17.0v17.0h-17.0ZM1006.3 320.9h17.0v17.0h-17.0ZM1001.5 324.7h17.0v17.0h-17.0ZM996.7 328.6h17.0v17.0h-17.0ZM991.9 332.8h17.0v17.0h-17.0ZM987.1 337.3h17.0v17.0h-17.0ZM982.3 342.0h17.0v17.0h-17.0ZM977.5 347.5h17.0v17.0h-17.0ZM972.7 354.3h17.0v17.0h-17.0ZM967.9 362.6h17.0v17.0h-17.0ZM965.5 367.3h17.0v17.0h-17.0ZM963.1 372.2h17.0v17.0h-17.0ZM960.7 377.6h17.0v17.0h-17.0ZM958.3 383.6h17.0v17.0h-17.0ZM955.9 390.7h17.0v17.0h-17.0ZM953.5 399.4h17.0v17.0h-17.0ZM951.1 409.8h17.0v17.0h-17.0ZM948.8 420.9h17.0v17.0h-17.0ZM946.4 433.3h17.0v17.0h-17.0ZM944.0 444.8h17.0v17.0h-17.0ZM941.6 452.1h17.0v17.0h-17.0ZM939.2 458.6h17.0v17.0h-17.0ZM936.8 468.2h17.0v17.0h-17.0ZM934.4 485.1h17.0v17.0h-17.0ZM932.0 504.3h17.0v17.0h-17.0ZM929.6 524.5h17.0v17.0h-17.0ZM927.2 537.0h17.0v17.0h-17.0ZM924.8 545.7h17.0v17.0h-17.0ZM922.4 553.6h17.0v17.0h-17.0ZM920.0 563.3h17.0v17.0h-17.0ZM917.6 578.3h17.0v17.0h-17.0ZM915.2 600.4h17.0v17.0h-17.0ZM912.8 622.0h17.0v17.0h-17.0ZM910.4 641.4h17.0v17.0h-17.0ZM908.0 660.0h17.0v17.0h-17.0ZM905.6 676.6h17.0v17.0h-17.0ZM903.2 690.9h17.0v17.0h-17.0ZM900.8 703.8h17.0v17.0h-17.0ZM898.4 715.6h17.0v17.0h-17.0ZM896.0 726.2h17.0v17.0h-17.0ZM893.6 735.9h17.0v17.0h-17.0ZM891.2 744.8h17.0v17.0h-17.0ZM888.9 753.1h17.0v17.0h-17.0ZM886.5 760.7h17.0v17.0h-17.0ZM884.1 767.7h17.0v17.0h-17.0ZM881.7 774.0h17.0v17.0h-17.0ZM879.3 779.9h17.0v17.0h-17.0ZM876.9 785.6h17.0v17.0h-17.0ZM874.5 790.9h17.0v17.0h-17.0ZM872.1 795.9h17.0v17.0h-17.0ZM867.3 804.8h17.0v17.0h-17.0ZM862.5 812.3h17.0v17.0h-17.0ZM857.7 819.1h17.0v17.0h-17.0ZM852.9 825.3h17.0v17.0h-17.0ZM848.1 830.8h17.0v17.0h-17.0ZM843.3 835.6h17.0v17.0h-17.0ZM838.5 839.7h17.0v17.0h-17.0ZM833.7 843.2h17.0v17.0h-17.0ZM829.0 846.4h17.0v17.0h-17.0ZM824.2 849.3h17.0v17.0h-17.0ZM818.6 852.4h17.0v17.0h-17.0ZM804.6 858.8h17.0v17.0h-17.0ZM790.6 864.2h17.0v17.0h-17.0ZM776.6 868.7h17.0v17.0h-17.0ZM762.6 872.3h17.0v17.0h-17.0ZM748.6 875.1h17.0v17.0h-17.0ZM734.6 877.7h17.0v17.0h-17.0ZM720.7 880.2h17.0v17.0h-17.0ZM706.7 882.6h17.0v17.0h-17.0ZM692.7 884.9h17.0v17.0h-17.0ZM678.7 887.1h17.0v17.0h-17.0ZM664.7 889.3h17.0v17.0h-17.0ZM650.7 891.4h17.0v17.0h-17.0ZM636.7 893.5h17.0v17.0h-17.0ZM622.7 895.5h17.0v17.0h-17.0ZM608.7 897.5h17.0v17.0h-17.0ZM594.7 899.4h17.0v17.0h-17.0ZM580.7 901.3h17.0v17.0h-17.0ZM566.7 903.4h17.0v17.0h-17.0ZM552.7 905.6h17.0v17.0h-17.0ZM538.7 908.0h17.0v17.0h-17.0ZM524.8 910.4h17.0v17.0h-17.0ZM510.8 912.7h17.0v17.0h-17.0ZM496.8 914.8h17.0v17.0h-17.0ZM482.8 916.7h17.0v17.0h-17.0ZM468.8 918.4h17.0v17.0h-17.0ZM454.8 920.0h17.0v17.0h-17.0ZM440.8 921.5h17.0v17.0h-17.0ZM416.8 924.2h17.0v17.0h-17.0ZM392.9 926.8h17.0v17.0h-17.0ZM368.9 928.9h17.0v17.0h-17.0ZM345.0 931.0h17.0v17.0h-17.0ZM321.0 933.4h17.0v17.0h-17.0ZM297.0 934.5h17.0v17.0h-17.0ZM273.1 936.7h17.0v17.0h-17.0ZM249.1 938.7h17.0v17.0h-17.0ZM225.2 940.6h17.0v17.0h-17.0ZM201.2 942.4h17.0v17.0h-17.0ZM177.2 943.5h17.0v17.0h-17.0ZM153.3 945.6h17.0v17.0h-17.0ZM129.3 947.9h17.0v17.0h-17.0ZM105.4 949.6h17.0v17.0h-17.0ZM91.0 950.2h17.0v17.0h-17.0ZM105.4 951.7h17.0v17.0h-17.0ZM129.3 950.2h17.0v17.0h-17.0ZM153.3 947.9h17.0v17.0h-17.0ZM177.2 945.7h17.0v17.0h-17.0ZM201.2 944.6h17.0v17.0h-17.0ZM225.2 942.8h17.0v17.0h-17.0ZM249.1 940.9h17.0v17.0h-17.0ZM273.1 938.9h17.0v17.0h-17.0ZM297.0 936.7h17.0v17.0h-17.0ZM321.0 935.6h17.0v17.0h-17.0ZM345.0 933.3h17.0v17.0h-17.0ZM368.9 931.1h17.0v17.0h-17.0ZM392.9 929.1h17.0v17.0h-17.0ZM416.8 926.6h17.0v17.0h-17.0ZM440.8 923.9h17.0v17.0h-17.0ZM454.8 922.3h17.0v17.0h-17.0ZM468.8 920.7h17.0v17.0h-17.0ZM482.8 919.1h17.0v17.0h-17.0ZM496.8 917.2h17.0v17.0h-17.0ZM510.8 915.2h17.0v17.0h-17.0ZM524.8 912.9h17.0v17.0h-17.0ZM538.7 910.5h17.0v17.0h-17.0ZM552.7 908.1h17.0v17.0h-17.0ZM566.7 905.8h17.0v17.0h-17.0ZM580.7 903.8h17.0v17.0h-17.0ZM594.7 901.8h17.0v17.0h-17.0ZM608.7 899.9h17.0v17.0h-17.0ZM622.7 898.0h17.0v17.0h-17.0ZM636.7 896.0h17.0v17.0h-17.0ZM650.7 893.9h17.0v17.0h-17.0ZM664.7 891.7h17.0v17.0h-17.0ZM678.7 889.6h17.0v17.0h-17.0ZM692.7 887.4h17.0v17.0h-17.0ZM706.7 885.1h17.0v17.0h-17.0ZM720.7 882.7h17.0v17.0h-17.0ZM734.6 880.2h17.0v17.0h-17.0ZM748.6 877.7h17.0v17.0h-17.0ZM762.6 874.9h17.0v17.0h-17.0ZM776.6 871.5h17.0v17.0h-17.0ZM790.6 867.3h17.0v17.0h-17.0ZM804.6 862.1h17.0v17.0h-17.0ZM818.6 855.9h17.0v17.0h-17.0ZM824.2 853.0h17.0v17.0h-17.0ZM829.0 850.3h17.0v17.0h-17.0ZM833.7 847.3h17.0v17.0h-17.0ZM838.5 843.9h17.0v17.0h-17.0ZM843.3 840.2h17.0v17.0h-17.0ZM848.1 835.9h17.0v17.0h-17.0ZM852.9 830.9h17.0v17.0h-17.0ZM857.7 825.1h17.0v17.0h-17.0ZM862.5 818.7h17.0v17.0h-17.0ZM867.3 811.6h17.0v17.0h-17.0ZM872.1 803.6h17.0v17.0h-17.0ZM874.5 799.1h17.0v17.0h-17.0ZM876.9 794.2h17.0v17.0h-17.0ZM879.3 788.9h17.0v17.0h-17.0ZM881.7 783.4h17.0v17.0h-17.0ZM884.1 777.5h17.0v17.0h-17.0ZM886.5 771.3h17.0v17.0h-17.0ZM888.9 764.5h17.0v17.0h-17.0ZM891.2 757.1h17.0v17.0h-17.0ZM893.6 749.0h17.0v17.0h-17.0ZM896.0 740.2h17.0v17.0h-17.0ZM898.4 730.7h17.0v17.0h-17.0ZM900.8 720.4h17.0v17.0h-17.0ZM903.2 708.9h17.0v17.0h-17.0ZM905.6 696.2h17.0v17.0h-17.0ZM908.0 682.4h17.0v17.0h-17.0ZM910.4 666.4h17.0v17.0h-17.0ZM912.8 648.2h17.0v17.0h-17.0ZM915.2 628.9h17.0v17.0h-17.0ZM917.6 608.2h17.0v17.0h-17.0ZM920.0 585.4h17.0v17.0h-17.0ZM922.4 568.3h17.0v17.0h-17.0ZM924.8 557.8h17.0v17.0h-17.0ZM927.2 549.7h17.0v17.0h-17.0ZM929.6 541.4h17.0v17.0h-17.0ZM932.0 530.3h17.0v17.0h-17.0ZM934.4 511.7h17.0v17.0h-17.0ZM936.8 491.8h17.0v17.0h-17.0ZM939.2 473.8h17.0v17.0h-17.0ZM941.6 462.5h17.0v17.0h-17.0ZM944.0 455.6h17.0v17.0h-17.0ZM946.4 448.9h17.0v17.0h-17.0ZM948.8 438.6h17.0v17.0h-17.0ZM951.1 425.7h17.0v17.0h-17.0ZM953.5 414.5h17.0v17.0h-17.0ZM955.9 403.9h17.0v17.0h-17.0ZM958.3 394.7h17.0v17.0h-17.0ZM960.7 387.3h17.0v17.0h-17.0ZM963.1 381.0h17.0v17.0h-17.0ZM965.5 375.5h17.0v17.0h-17.0ZM967.9 370.5h17.0v17.0h-17.0ZM972.7 361.3h17.0v17.0h-17.0ZM977.5 353.6h17.0v17.0h-17.0ZM982.3 347.4h17.0v17.0h-17.0ZM987.1 342.2h17.0v17.0h-17.0ZM991.9 337.6h17.0v17.0h-17.0ZM996.7 333.2h17.0v17.0h-17.0ZM1001.5 329.2h17.0v17.0h-17.0ZM1006.3 325.3h17.0v17.0h-17.0ZM1011.0 321.5h17.0v17.0h-17.0ZM1015.8 317.8h17.0v17.0h-17.0ZM1021.4 313.8h17.0v17.0h-17.0ZM1035.4 305.6h17.0v17.0h-17.0ZM1049.4 301.4h17.0v17.0h-17.0ZM1063.4 297.2h17.0v17.0h-17.0ZM1077.4 292.6h17.0v17.0h-17.0ZM1091.4 288.5h17.0v17.0h-17.0ZM1105.4 285.1h17.0v17.0h-17.0ZM1119.3 282.0h17.0v17.0h-17.0ZM1133.3 279.0h17.0v17.0h-17.0ZM1147.3 276.3h17.0v17.0h-17.0ZM1161.3 273.7h17.0v17.0h-17.0ZM1175.3 271.2h17.0v17.0h-17.0ZM1189.3 268.8h17.0v17.0h-17.0ZM1203.3 266.4h17.0v17.0h-17.0ZM1217.3 264.0h17.0v17.0h-17.0ZM1231.3 261.7h17.0v17.0h-17.0ZM1245.3 259.5h17.0v17.0h-17.0ZM1259.3 257.4h17.0v17.0h-17.0ZM1273.3 255.5h17.0v17.0h-17.0ZM1287.3 253.8h17.0v17.0h-17.0ZM1301.3 252.4h17.0v17.0h-17.0ZM1315.2 251.1h17.0v17.0h-17.0ZM1329.2 250.1h17.0v17.0h-17.0ZM1343.2 249.1h17.0v17.0h-17.0ZM1357.2 248.1h17.0v17.0h-17.0ZM1371.2 247.0h17.0v17.0h-17.0ZM1385.2 245.9h17.0v17.0h-17.0ZM1399.2 244.5h17.0v17.0h-17.0ZM1423.2 241.5h17.0v17.0h-17.0ZM1447.1 238.7h17.0v17.0h-17.0ZM1471.1 236.5h17.0v17.0h-17.0ZM1495.0 234.5h17.0v17.0h-17.0ZM1519.0 232.5h17.0v17.0h-17.0ZM1543.0 230.5h17.0v17.0h-17.0ZM1566.9 228.5h17.0v17.0h-17.0ZM1590.9 226.6h17.0v17.0h-17.0ZM1614.8 225.3h17.0v17.0h-17.0ZM1638.8 224.2h17.0v17.0h-17.0ZM1662.8 222.1h17.0v17.0h-17.0ZM1686.7 220.1h17.0v17.0h-17.0ZM1710.7 219.2h17.0v17.0h-17.0ZM1734.6 218.2h17.0v17.0h-17.0ZM1749.0 216.6h17.0v17.0h-17.0Z" fill="#984807"/>
<path d="M1757.5 110.8 L1743.1 114.7 L1719.2 119.4 L1695.2 123.5 L1671.3 129.8 L1647.3 137.0 L1623.3 141.3 L1599.4 147.1 L1575.4 152.5 L1551.5 159.8 L1527.5 163.7 L1503.5 170.9 L1479.6 176.4 L1455.6 182.4 L1431.7 187.6 L1407.7 194.7 L1393.7 198.7 L1379.7 202.1 L1365.7 205.3 L1351.7 208.4 L1337.7 211.4 L1323.7 214.4 L1309.8 217.7 L1295.8 221.2 L1281.8 224.9 L1267.8 228.9 L1253.8 233.0 L1239.8 237.2 L1225.8 241.4 L1211.8 245.6 L1197.8 249.7 L1183.8 253.8 L1169.8 257.8 L1155.8 261.8 L1141.8 265.9 L1127.8 270.0 L1113.9 274.3 L1099.9 278.7 L1085.9 284.3 L1071.9 290.9 L1057.9 297.3 L1043.9 303.9 L1029.9 312.2 L1024.3 316.3 L1019.5 319.9 L1014.8 323.3 L1010.0 326.6 L1005.2 330.0 L1000.4 333.7 L995.6 337.9 L990.8 343.1 L986.0 349.4 L981.2 356.6 L976.4 364.3 L974.0 368.1 L971.6 372.1 L969.2 376.2 L966.8 380.4 L964.4 385.0 L962.0 389.8 L959.6 394.9 L957.3 400.2 L954.9 406.0 L952.5 412.6 L950.1 420.6 L947.7 431.5 L945.3 444.8 L942.9 458.9 L940.5 472.5 L938.1 486.8 L935.7 502.7 L933.3 521.5 L930.9 542.9 L928.5 564.5 L926.1 584.0 L923.7 602.6 L921.3 620.8 L918.9 638.2 L916.5 654.7 L914.1 670.2 L911.7 684.6 L909.3 698.5 L906.9 711.4 L904.5 722.7 L902.1 732.2 L899.7 740.9 L897.4 748.9 L895.0 756.2 L892.6 762.9 L890.2 769.0 L887.8 774.7 L885.4 780.1 L883.0 785.2 L880.6 790.0 L875.8 798.8 L871.0 806.5 L866.2 813.2 L861.4 819.4 L856.6 825.0 L851.8 830.2 L847.0 834.9 L842.2 839.0 L837.5 842.7 L832.7 845.9 L827.1 849.3 L813.1 857.3 L799.1 864.8 L785.1 871.7 L771.1 876.6 L757.1 880.8 L743.1 885.0 L729.2 889.7 L715.2 894.7 L701.2 899.8 L687.2 904.9 L673.2 909.9 L659.2 914.5 L645.2 918.8 L631.2 922.4 L617.2 925.9 L603.2 930.5 L589.2 934.7 L575.2 937.4 L561.2 940.0 L547.2 943.5 L533.3 947.3 L519.3 950.9 L505.3 954.7 L491.3 959.0 L477.3 963.4 L463.3 967.0 L449.3 970.2 L425.3 975.7 L401.4 981.4 L377.4 987.0 L353.5 991.9 L329.5 1000.1 L305.5 1006.8 L281.6 1011.3 L257.6 1016.9 L233.7 1022.5 L209.7 1028.0 L185.7 1034.8 L161.8 1038.2 L137.8 1041.5 L113.9 1047.9 L99.5 1052.4 L113.9 1048.8 L137.8 1042.0 L161.8 1038.6 L185.7 1035.4 L209.7 1028.7 L233.7 1023.2 L257.6 1017.6 L281.6 1012.0 L305.5 1007.4 L329.5 1001.0 L353.5 992.7 L377.4 987.6 L401.4 982.1 L425.3 976.4 L449.3 970.9 L463.3 967.6 L477.3 964.2 L491.3 960.0 L505.3 955.5 L519.3 951.7 L533.3 948.1 L547.2 944.3 L561.2 940.7 L575.2 937.9 L589.2 935.3 L603.2 931.5 L617.2 927.0 L631.2 923.3 L645.2 919.9 L659.2 915.9 L673.2 911.4 L687.2 906.6 L701.2 901.6 L715.2 896.6 L729.2 891.6 L743.1 886.9 L757.1 882.7 L771.1 878.7 L785.1 874.0 L799.1 867.8 L813.1 860.3 L827.1 852.5 L832.7 849.3 L837.5 846.4 L842.2 843.0 L847.0 839.2 L851.8 834.8 L856.6 830.0 L861.4 824.7 L866.2 818.9 L871.0 812.6 L875.8 805.6 L880.6 797.5 L883.0 793.0 L885.4 788.3 L887.8 783.3 L890.2 778.0 L892.6 772.5 L895.0 766.4 L897.4 759.9 L899.7 752.7 L902.1 745.0 L904.5 736.5 L906.9 727.2 L909.3 716.4 L911.7 703.9 L914.1 690.2 L916.5 675.9 L918.9 660.7 L921.3 644.4 L923.7 627.2 L926.1 609.3 L928.5 590.8 L930.9 571.7 L933.3 550.5 L935.7 528.7 L938.1 509.0 L940.5 492.6 L942.9 478.0 L945.3 464.3 L947.7 450.4 L950.1 436.7 L952.5 425.0 L954.9 416.5 L957.3 409.6 L959.6 403.6 L962.0 398.2 L964.4 393.1 L966.8 388.2 L969.2 383.6 L971.6 379.2 L974.0 375.1 L976.4 371.1 L981.2 363.4 L986.0 355.9 L990.8 349.0 L995.6 343.0 L1000.4 338.3 L1005.2 334.2 L1010.0 330.7 L1014.8 327.4 L1019.5 324.1 L1024.3 320.7 L1029.9 316.6 L1043.9 307.6 L1057.9 301.0 L1071.9 294.6 L1085.9 288.2 L1099.9 282.2 L1113.9 277.8 L1127.8 273.6 L1141.8 269.5 L1155.8 265.5 L1169.8 261.5 L1183.8 257.5 L1197.8 253.6 L1211.8 249.5 L1225.8 245.3 L1239.8 241.1 L1253.8 236.9 L1267.8 232.8 L1281.8 228.8 L1295.8 225.0 L1309.8 221.5 L1323.7 218.2 L1337.7 215.1 L1351.7 212.1 L1365.7 209.1 L1379.7 206.0 L1393.7 202.6 L1407.7 198.8 L1431.7 191.5 L1455.6 186.3 L1479.6 180.4 L1503.5 175.0 L1527.5 167.6 L1551.5 163.7 L1575.4 156.6 L1599.4 151.2 L1623.3 145.2 L1647.3 141.0 L1671.3 134.1 L1695.2 127.6 L1719.2 123.4 L1743.1 118.9 L1757.5 115.0" fill="none" stroke="#00B050" stroke-width="7" stroke-linejoin="round" stroke-linecap="round"/>
<path d="M1757.5 103.9L1765.3 121.1L1749.7 121.1ZM1743.1 107.9L1750.9 125.1L1735.3 125.1ZM1719.2 112.5L1727.0 129.7L1711.4 129.7ZM1695.2 116.6L1703.0 133.8L1687.4 133.8ZM1671.3 122.9L1679.1 140.1L1663.5 140.1ZM1647.3 130.0L1655.1 147.2L1639.5 147.2ZM1623.3 134.3L1631.1 151.5L1615.5 151.5ZM1599.4 140.2L1607.2 157.4L1591.6 157.4ZM1575.4 145.6L1583.2 162.8L1567.6 162.8ZM1551.5 152.9L1559.3 170.1L1543.7 170.1ZM1527.5 156.7L1535.3 173.9L1519.7 173.9ZM1503.5 163.9L1511.3 181.1L1495.7 181.1ZM1479.6 169.4L1487.4 186.6L1471.8 186.6ZM1455.6 175.4L1463.4 192.6L1447.8 192.6ZM1431.7 180.6L1439.5 197.8L1423.9 197.8ZM1407.7 187.7L1415.5 204.9L1399.9 204.9ZM1393.7 191.7L1401.5 208.9L1385.9 208.9ZM1379.7 195.1L1387.5 212.3L1371.9 212.3ZM1365.7 198.3L1373.5 215.5L1357.9 215.5ZM1351.7 201.3L1359.5 218.5L1343.9 218.5ZM1337.7 204.3L1345.5 221.5L1329.9 221.5ZM1323.7 207.4L1331.5 224.6L1315.9 224.6ZM1309.8 210.6L1317.6 227.8L1302.0 227.8ZM1295.8 214.1L1303.6 231.3L1288.0 231.3ZM1281.8 217.9L1289.6 235.1L1274.0 235.1ZM1267.8 221.8L1275.6 239.0L1260.0 239.0ZM1253.8 225.9L1261.6 243.1L1246.0 243.1ZM1239.8 230.1L1247.6 247.3L1232.0 247.3ZM1225.8 234.3L1233.6 251.5L1218.0 251.5ZM1211.8 238.5L1219.6 255.7L1204.0 255.7ZM1197.8 242.6L1205.6 259.8L1190.0 259.8ZM1183.8 246.6L1191.6 263.8L1176.0 263.8ZM1169.8 250.5L1177.6 267.7L1162.0 267.7ZM1155.8 254.5L1163.6 271.7L1148.0 271.7ZM1141.8 258.5L1149.6 275.7L1134.0 275.7ZM1127.8 262.6L1135.6 279.8L1120.0 279.8ZM1113.9 266.8L1121.7 284.0L1106.1 284.0ZM1099.9 271.1L1107.7 288.3L1092.1 288.3ZM1085.9 276.7L1093.7 293.9L1078.1 293.9ZM1071.9 283.1L1079.7 300.3L1064.1 300.3ZM1057.9 289.5L1065.7 306.7L1050.1 306.7ZM1043.9 296.0L1051.7 313.2L1036.1 313.2ZM1029.9 304.3L1037.7 321.5L1022.1 321.5ZM1024.3 308.4L1032.1 325.6L1016.5 325.6ZM1019.5 311.9L1027.3 329.1L1011.7 329.1ZM1014.8 315.3L1022.6 332.5L1007.0 332.5ZM1010.0 318.5L1017.8 335.7L1002.2 335.7ZM1005.2 321.9L1013.0 339.1L997.4 339.1ZM1000.4 325.6L1008.2 342.8L992.6 342.8ZM995.6 329.8L1003.4 347.0L987.8 347.0ZM990.8 335.0L998.6 352.2L983.0 352.2ZM986.0 341.3L993.8 358.5L978.2 358.5ZM981.2 348.4L989.0 365.6L973.4 365.6ZM976.4 356.0L984.2 373.2L968.6 373.2ZM974.0 359.9L981.8 377.1L966.2 377.1ZM971.6 363.8L979.4 381.0L963.8 381.0ZM969.2 367.9L977.0 385.1L961.4 385.1ZM966.8 372.2L974.6 389.4L959.0 389.4ZM964.4 376.7L972.2 393.9L956.6 393.9ZM962.0 381.6L969.8 398.8L954.2 398.8ZM959.6 386.6L967.4 403.8L951.8 403.8ZM957.3 391.9L965.1 409.1L949.5 409.1ZM954.9 397.7L962.7 414.9L947.1 414.9ZM952.5 404.3L960.3 421.5L944.7 421.5ZM950.1 412.2L957.9 429.4L942.3 429.4ZM947.7 423.2L955.5 440.4L939.9 440.4ZM945.3 436.5L953.1 453.7L937.5 453.7ZM942.9 450.5L950.7 467.7L935.1 467.7ZM940.5 464.1L948.3 481.3L932.7 481.3ZM938.1 478.4L945.9 495.6L930.3 495.6ZM935.7 494.2L943.5 511.4L927.9 511.4ZM933.3 513.1L941.1 530.3L925.5 530.3ZM930.9 534.5L938.7 551.7L923.1 551.7ZM928.5 556.1L936.3 573.3L920.7 573.3ZM926.1 575.6L933.9 592.8L918.3 592.8ZM923.7 594.2L931.5 611.4L915.9 611.4ZM921.3 612.3L929.1 629.5L913.5 629.5ZM918.9 629.7L926.7 646.9L911.1 646.9ZM916.5 646.2L924.3 663.4L908.7 663.4ZM914.1 661.6L921.9 678.8L906.3 678.8ZM911.7 676.1L919.5 693.3L903.9 693.3ZM909.3 690.0L917.1 707.2L901.5 707.2ZM906.9 702.8L914.7 720.0L899.1 720.0ZM904.5 714.1L912.3 731.3L896.7 731.3ZM902.1 723.6L909.9 740.8L894.3 740.8ZM899.7 732.3L907.5 749.5L891.9 749.5ZM897.4 740.3L905.2 757.5L889.6 757.5ZM895.0 747.6L902.8 764.8L887.2 764.8ZM892.6 754.3L900.4 771.5L884.8 771.5ZM890.2 760.4L898.0 777.6L882.4 777.6ZM887.8 766.1L895.6 783.3L880.0 783.3ZM885.4 771.5L893.2 788.7L877.6 788.7ZM883.0 776.6L890.8 793.8L875.2 793.8ZM880.6 781.4L888.4 798.6L872.8 798.6ZM875.8 790.2L883.6 807.4L868.0 807.4ZM871.0 797.9L878.8 815.1L863.2 815.1ZM866.2 804.6L874.0 821.8L858.4 821.8ZM861.4 810.8L869.2 828.0L853.6 828.0ZM856.6 816.4L864.4 833.6L848.8 833.6ZM851.8 821.6L859.6 838.8L844.0 838.8ZM847.0 826.3L854.8 843.5L839.2 843.5ZM842.2 830.4L850.0 847.6L834.4 847.6ZM837.5 834.1L845.3 851.3L829.7 851.3ZM832.7 837.3L840.5 854.5L824.9 854.5ZM827.1 840.7L834.9 857.9L819.3 857.9ZM813.1 848.7L820.9 865.9L805.3 865.9ZM799.1 856.2L806.9 873.4L791.3 873.4ZM785.1 863.1L792.9 880.3L777.3 880.3ZM771.1 868.0L778.9 885.2L763.3 885.2ZM757.1 872.2L764.9 889.4L749.3 889.4ZM743.1 876.4L750.9 893.6L735.3 893.6ZM729.2 881.1L737.0 898.3L721.4 898.3ZM715.2 886.1L723.0 903.3L707.4 903.3ZM701.2 891.2L709.0 908.4L693.4 908.4ZM687.2 896.3L695.0 913.5L679.4 913.5ZM673.2 901.3L681.0 918.5L665.4 918.5ZM659.2 905.9L667.0 923.1L651.4 923.1ZM645.2 910.2L653.0 927.4L637.4 927.4ZM631.2 913.8L639.0 931.0L623.4 931.0ZM617.2 917.3L625.0 934.5L609.4 934.5ZM603.2 921.9L611.0 939.1L595.4 939.1ZM589.2 926.1L597.0 943.3L581.4 943.3ZM575.2 928.8L583.0 946.0L567.4 946.0ZM561.2 931.4L569.0 948.6L553.4 948.6ZM547.2 934.9L555.0 952.1L539.4 952.1ZM533.3 938.7L541.1 955.9L525.5 955.9ZM519.3 942.3L527.1 959.5L511.5 959.5ZM505.3 946.1L513.1 963.3L497.5 963.3ZM491.3 950.4L499.1 967.6L483.5 967.6ZM477.3 954.8L485.1 972.0L469.5 972.0ZM463.3 958.4L471.1 975.6L455.5 975.6ZM449.3 961.6L457.1 978.8L441.5 978.8ZM425.3 967.1L433.1 984.3L417.5 984.3ZM401.4 972.8L409.2 990.0L393.6 990.0ZM377.4 978.4L385.2 995.6L369.6 995.6ZM353.5 983.3L361.3 1000.5L345.7 1000.5ZM329.5 991.5L337.3 1008.7L321.7 1008.7ZM305.5 998.2L313.3 1015.4L297.7 1015.4ZM281.6 1002.7L289.4 1019.9L273.8 1019.9ZM257.6 1008.3L265.4 1025.5L249.8 1025.5ZM233.7 1013.9L241.5 1031.1L225.9 1031.1ZM209.7 1019.4L217.5 1036.6L201.9 1036.6ZM185.7 1026.2L193.5 1043.4L177.9 1043.4ZM161.8 1029.6L169.6 1046.8L154.0 1046.8ZM137.8 1032.9L145.6 1050.1L130.0 1050.1ZM113.9 1039.3L121.7 1056.5L106.1 1056.5ZM99.5 1043.8L107.3 1061.0L91.7 1061.0ZM113.9 1040.2L121.7 1057.4L106.1 1057.4ZM137.8 1033.4L145.6 1050.6L130.0 1050.6ZM161.8 1030.0L169.6 1047.2L154.0 1047.2ZM185.7 1026.8L193.5 1044.0L177.9 1044.0ZM209.7 1020.1L217.5 1037.3L201.9 1037.3ZM233.7 1014.6L241.5 1031.8L225.9 1031.8ZM257.6 1009.0L265.4 1026.2L249.8 1026.2ZM281.6 1003.4L289.4 1020.6L273.8 1020.6ZM305.5 998.8L313.3 1016.0L297.7 1016.0ZM329.5 992.4L337.3 1009.6L321.7 1009.6ZM353.5 984.1L361.3 1001.3L345.7 1001.3ZM377.4 979.0L385.2 996.2L369.6 996.2ZM401.4 973.5L409.2 990.7L393.6 990.7ZM425.3 967.8L433.1 985.0L417.5 985.0ZM449.3 962.3L457.1 979.5L441.5 979.5ZM463.3 959.0L471.1 976.2L455.5 976.2ZM477.3 955.6L485.1 972.8L469.5 972.8ZM491.3 951.4L499.1 968.6L483.5 968.6ZM505.3 946.9L513.1 964.1L497.5 964.1ZM519.3 943.1L527.1 960.3L511.5 960.3ZM533.3 939.5L541.1 956.7L525.5 956.7ZM547.2 935.7L555.0 952.9L539.4 952.9ZM561.2 932.1L569.0 949.3L553.4 949.3ZM575.2 929.3L583.0 946.5L567.4 946.5ZM589.2 926.7L597.0 943.9L581.4 943.9ZM603.2 922.9L611.0 940.1L595.4 940.1ZM617.2 918.4L625.0 935.6L609.4 935.6ZM631.2 914.7L639.0 931.9L623.4 931.9ZM645.2 911.3L653.0 928.5L637.4 928.5ZM659.2 907.3L667.0 924.5L651.4 924.5ZM673.2 902.8L681.0 920.0L665.4 920.0ZM687.2 898.0L695.0 915.2L679.4 915.2ZM701.2 893.0L709.0 910.2L693.4 910.2ZM715.2 888.0L723.0 905.2L707.4 905.2ZM729.2 883.0L737.0 900.2L721.4 900.2ZM743.1 878.3L750.9 895.5L735.3 895.5ZM757.1 874.1L764.9 891.3L749.3 891.3ZM771.1 870.1L778.9 887.3L763.3 887.3ZM785.1 865.4L792.9 882.6L777.3 882.6ZM799.1 859.2L806.9 876.4L791.3 876.4ZM813.1 851.7L820.9 868.9L805.3 868.9ZM827.1 843.9L834.9 861.1L819.3 861.1ZM832.7 840.7L840.5 857.9L824.9 857.9ZM837.5 837.8L845.3 855.0L829.7 855.0ZM842.2 834.4L850.0 851.6L834.4 851.6ZM847.0 830.6L854.8 847.8L839.2 847.8ZM851.8 826.2L859.6 843.4L844.0 843.4ZM856.6 821.4L864.4 838.6L848.8 838.6ZM861.4 816.1L869.2 833.3L853.6 833.3ZM866.2 810.3L874.0 827.5L858.4 827.5ZM871.0 804.0L878.8 821.2L863.2 821.2ZM875.8 797.0L883.6 814.2L868.0 814.2ZM880.6 788.9L888.4 806.1L872.8 806.1ZM883.0 784.4L890.8 801.6L875.2 801.6ZM885.4 779.7L893.2 796.9L877.6 796.9ZM887.8 774.7L895.6 791.9L880.0 791.9ZM890.2 769.4L898.0 786.6L882.4 786.6ZM892.6 763.9L900.4 781.1L884.8 781.1ZM895.0 757.8L902.8 775.0L887.2 775.0ZM897.4 751.3L905.2 768.5L889.6 768.5ZM899.7 744.1L907.5 761.3L891.9 761.3ZM902.1 736.4L909.9 753.6L894.3 753.6ZM904.5 727.9L912.3 745.1L896.7 745.1ZM906.9 718.6L914.7 735.8L899.1 735.8ZM909.3 707.7L917.1 724.9L901.5 724.9ZM911.7 695.2L919.5 712.4L903.9 712.4ZM914.1 681.5L921.9 698.7L906.3 698.7ZM916.5 667.2L924.3 684.4L908.7 684.4ZM918.9 652.0L926.7 669.2L911.1 669.2ZM921.3 635.7L929.1 652.9L913.5 652.9ZM923.7 618.5L931.5 635.7L915.9 635.7ZM926.1 600.5L933.9 617.7L918.3 617.7ZM928.5 582.0L936.3 599.2L920.7 599.2ZM930.9 562.9L938.7 580.1L923.1 580.1ZM933.3 541.7L941.1 558.9L925.5 558.9ZM935.7 520.0L943.5 537.2L927.9 537.2ZM938.1 500.2L945.9 517.4L930.3 517.4ZM940.5 483.8L948.3 501.0L932.7 501.0ZM942.9 469.2L950.7 486.4L935.1 486.4ZM945.3 455.5L953.1 472.7L937.5 472.7ZM947.7 441.5L955.5 458.7L939.9 458.7ZM950.1 427.9L957.9 445.1L942.3 445.1ZM952.5 416.2L960.3 433.4L944.7 433.4ZM954.9 407.6L962.7 424.8L947.1 424.8ZM957.3 400.7L965.1 417.9L949.5 417.9ZM959.6 394.7L967.4 411.9L951.8 411.9ZM962.0 389.3L969.8 406.5L954.2 406.5ZM964.4 384.2L972.2 401.4L956.6 401.4ZM966.8 379.2L974.6 396.4L959.0 396.4ZM969.2 374.6L977.0 391.8L961.4 391.8ZM971.6 370.3L979.4 387.5L963.8 387.5ZM974.0 366.1L981.8 383.3L966.2 383.3ZM976.4 362.1L984.2 379.3L968.6 379.3ZM981.2 354.4L989.0 371.6L973.4 371.6ZM986.0 346.8L993.8 364.0L978.2 364.0ZM990.8 339.9L998.6 357.1L983.0 357.1ZM995.6 333.9L1003.4 351.1L987.8 351.1ZM1000.4 329.2L1008.2 346.4L992.6 346.4ZM1005.2 325.1L1013.0 342.3L997.4 342.3ZM1010.0 321.6L1017.8 338.8L1002.2 338.8ZM1014.8 318.2L1022.6 335.4L1007.0 335.4ZM1019.5 315.0L1027.3 332.2L1011.7 332.2ZM1024.3 311.5L1032.1 328.7L1016.5 328.7ZM1029.9 307.3L1037.7 324.5L1022.1 324.5ZM1043.9 298.3L1051.7 315.5L1036.1 315.5ZM1057.9 291.6L1065.7 308.8L1050.1 308.8ZM1071.9 285.2L1079.7 302.4L1064.1 302.4ZM1085.9 278.6L1093.7 295.8L1078.1 295.8ZM1099.9 272.6L1107.7 289.8L1092.1 289.8ZM1113.9 268.1L1121.7 285.3L1106.1 285.3ZM1127.8 263.8L1135.6 281.0L1120.0 281.0ZM1141.8 259.7L1149.6 276.9L1134.0 276.9ZM1155.8 255.6L1163.6 272.8L1148.0 272.8ZM1169.8 251.5L1177.6 268.7L1162.0 268.7ZM1183.8 247.5L1191.6 264.7L1176.0 264.7ZM1197.8 243.5L1205.6 260.7L1190.0 260.7ZM1211.8 239.4L1219.6 256.6L1204.0 256.6ZM1225.8 235.2L1233.6 252.4L1218.0 252.4ZM1239.8 231.0L1247.6 248.2L1232.0 248.2ZM1253.8 226.8L1261.6 244.0L1246.0 244.0ZM1267.8 222.7L1275.6 239.9L1260.0 239.9ZM1281.8 218.7L1289.6 235.9L1274.0 235.9ZM1295.8 214.9L1303.6 232.1L1288.0 232.1ZM1309.8 211.3L1317.6 228.5L1302.0 228.5ZM1323.7 208.1L1331.5 225.3L1315.9 225.3ZM1337.7 205.0L1345.5 222.2L1329.9 222.2ZM1351.7 202.0L1359.5 219.2L1343.9 219.2ZM1365.7 199.0L1373.5 216.2L1357.9 216.2ZM1379.7 195.8L1387.5 213.0L1371.9 213.0ZM1393.7 192.4L1401.5 209.6L1385.9 209.6ZM1407.7 188.6L1415.5 205.8L1399.9 205.8ZM1431.7 181.3L1439.5 198.5L1423.9 198.5ZM1455.6 176.1L1463.4 193.3L1447.8 193.3ZM1479.6 170.2L1487.4 187.4L1471.8 187.4ZM1503.5 164.7L1511.3 181.9L1495.7 181.9ZM1527.5 157.4L1535.3 174.6L1519.7 174.6ZM1551.5 153.5L1559.3 170.7L1543.7 170.7ZM1575.4 146.4L1583.2 163.6L1567.6 163.6ZM1599.4 140.9L1607.2 158.1L1591.6 158.1ZM1623.3 135.0L1631.1 152.2L1615.5 152.2ZM1647.3 130.7L1655.1 147.9L1639.5 147.9ZM1671.3 123.8L1679.1 141.0L1663.5 141.0ZM1695.2 117.3L1703.0 134.5L1687.4 134.5ZM1719.2 113.0L1727.0 130.2L1711.4 130.2ZM1743.1 108.6L1750.9 125.8L1735.3 125.8ZM1757.5 104.7L1765.3 121.9L1749.7 121.9Z" fill="#0070C0" stroke="#00B050" stroke-width="1.8" stroke-linejoin="miter"/>
<path d="M1757.5 37.5 L1743.1 41.3 L1719.2 47.9 L1695.2 56.7 L1671.3 62.9 L1647.3 70.2 L1623.3 77.7 L1599.4 85.2 L1575.4 91.9 L1551.5 98.8 L1527.5 106.1 L1503.5 113.4 L1479.6 120.2 L1455.6 127.1 L1431.7 134.7 L1407.7 142.6 L1393.7 147.1 L1379.7 151.7 L1365.7 156.2 L1351.7 160.6 L1337.7 165.1 L1323.7 169.6 L1309.8 174.2 L1295.8 178.8 L1281.8 183.3 L1267.8 187.9 L1253.8 192.5 L1239.8 197.2 L1225.8 201.9 L1211.8 206.6 L1197.8 211.2 L1183.8 215.8 L1169.8 220.3 L1155.8 225.1 L1141.8 230.4 L1127.8 236.1 L1113.9 242.2 L1099.9 248.6 L1085.9 254.6 L1071.9 260.8 L1057.9 267.4 L1043.9 274.8 L1029.9 283.5 L1024.3 287.3 L1019.5 290.8 L1014.8 294.4 L1010.0 298.2 L1005.2 302.1 L1000.4 306.3 L995.6 310.7 L990.8 315.5 L986.0 320.9 L981.2 327.3 L976.4 334.6 L974.0 338.4 L971.6 342.3 L969.2 346.4 L966.8 350.7 L964.4 355.3 L962.0 360.3 L959.6 365.9 L957.3 372.8 L954.9 380.7 L952.5 389.1 L950.1 397.5 L947.7 406.8 L945.3 416.2 L942.9 426.9 L940.5 439.8 L938.1 454.9 L935.7 474.0 L933.3 506.9 L930.9 543.1 L928.5 568.6 L926.1 589.6 L923.7 603.4 L921.3 614.6 L918.9 629.6 L916.5 658.3 L914.1 680.5 L911.7 693.8 L909.3 705.5 L906.9 721.6 L904.5 737.2 L902.1 748.2 L899.7 760.5 L897.4 777.3 L895.0 790.2 L892.6 798.9 L890.2 804.2 L887.8 808.4 L885.4 812.9 L883.0 817.9 L880.6 823.1 L875.8 832.5 L871.0 841.0 L866.2 848.8 L861.4 855.8 L856.6 861.8 L851.8 867.3 L847.0 872.4 L842.2 877.1 L837.5 881.4 L832.7 885.5 L827.1 890.0 L813.1 899.9 L799.1 907.6 L785.1 913.9 L771.1 919.2 L757.1 924.3 L743.1 930.6 L729.2 936.3 L715.2 940.6 L701.2 944.8 L687.2 949.3 L673.2 953.9 L659.2 958.8 L645.2 964.1 L631.2 970.5 L617.2 976.7 L603.2 982.1 L589.2 987.3 L575.2 992.0 L561.2 996.4 L547.2 1000.1 L533.3 1003.6 L519.3 1006.9 L505.3 1010.5 L491.3 1014.4 L477.3 1018.3 L463.3 1022.4 L449.3 1026.7 L425.3 1034.5 L401.4 1042.4 L377.4 1049.4 L353.5 1056.1 L329.5 1062.3 L305.5 1069.1 L281.6 1075.7 L257.6 1081.3 L233.7 1089.1 L209.7 1094.7 L185.7 1101.3 L161.8 1108.0 L137.8 1113.7 L113.9 1120.3 L99.5 1123.6 L113.9 1120.3 L137.8 1113.7 L161.8 1108.0 L185.7 1101.3 L209.7 1094.7 L233.7 1089.1 L257.6 1081.3 L281.6 1075.7 L305.5 1069.1 L329.5 1062.3 L353.5 1056.1 L377.4 1049.4 L401.4 1042.4 L425.3 1034.5 L449.3 1026.7 L463.3 1022.7 L477.3 1018.9 L491.3 1015.2 L505.3 1011.6 L519.3 1008.3 L533.3 1005.2 L547.2 1002.1 L561.2 998.5 L575.2 994.3 L589.2 989.7 L603.2 984.7 L617.2 979.4 L631.2 973.4 L645.2 967.2 L659.2 962.0 L673.2 957.2 L687.2 952.8 L701.2 948.4 L715.2 944.6 L729.2 940.6 L743.1 935.5 L757.1 929.6 L771.1 924.8 L785.1 920.2 L799.1 914.7 L813.1 908.1 L827.1 899.7 L832.7 895.8 L837.5 892.2 L842.2 888.5 L847.0 884.4 L851.8 880.1 L856.6 875.5 L861.4 870.4 L866.2 865.0 L871.0 858.8 L875.8 851.7 L880.6 844.0 L883.0 840.0 L885.4 835.8 L887.8 831.3 L890.2 826.6 L892.6 821.8 L895.0 817.2 L897.4 813.2 L899.7 809.2 L902.1 803.8 L904.5 795.0 L906.9 782.7 L909.3 766.5 L911.7 753.3 L914.1 741.2 L916.5 724.0 L918.9 707.0 L921.3 687.6 L923.7 650.7 L926.1 617.6 L928.5 601.2 L930.9 586.1 L933.3 568.4 L935.7 548.3 L938.1 521.8 L940.5 493.1 L942.9 474.7 L945.3 460.9 L947.7 449.3 L950.1 439.1 L952.5 428.9 L954.9 419.8 L957.3 411.3 L959.6 402.7 L962.0 393.5 L964.4 384.7 L966.8 376.9 L969.2 370.5 L971.6 364.9 L974.0 359.7 L976.4 355.0 L981.2 346.2 L986.0 338.0 L990.8 330.8 L995.6 324.7 L1000.4 319.2 L1005.2 314.2 L1010.0 309.6 L1014.8 305.3 L1019.5 301.1 L1024.3 297.0 L1029.9 292.5 L1043.9 282.5 L1057.9 274.2 L1071.9 266.9 L1085.9 260.1 L1099.9 253.6 L1113.9 247.4 L1127.8 241.4 L1141.8 235.8 L1155.8 230.7 L1169.8 226.0 L1183.8 221.6 L1197.8 217.2 L1211.8 212.6 L1225.8 207.9 L1239.8 203.2 L1253.8 198.5 L1267.8 193.9 L1281.8 189.3 L1295.8 184.8 L1309.8 180.8 L1323.7 177.0 L1337.7 173.4 L1351.7 169.7 L1365.7 166.1 L1379.7 162.5 L1393.7 158.7 L1407.7 154.7 L1431.7 147.2 L1455.6 139.9 L1479.6 133.4 L1503.5 126.9 L1527.5 120.2 L1551.5 113.5 L1575.4 107.0 L1599.4 100.4 L1623.3 93.7 L1647.3 86.9 L1671.3 80.6 L1695.2 76.3 L1719.2 69.4 L1743.1 63.1 L1757.5 59.3" fill="none" stroke="#0070C0" stroke-width="7" stroke-linejoin="round" stroke-linecap="round"/>
<g fill="#0070C0"><circle cx="1757.5" cy="37.5" r="9.2"/><circle cx="1743.1" cy="41.3" r="9.2"/><circle cx="1719.2" cy="47.9" r="9.2"/><circle cx="1695.2" cy="56.7" r="9.2"/><circle cx="1671.3" cy="62.9" r="9.2"/><circle cx="1647.3" cy="70.2" r="9.2"/><circle cx="1623.3" cy="77.7" r="9.2"/><circle cx="1599.4" cy="85.2" r="9.2"/><circle cx="1575.4" cy="91.9" r="9.2"/><circle cx="1551.5" cy="98.8" r="9.2"/><circle cx="1527.5" cy="106.1" r="9.2"/><circle cx="1503.5" cy="113.4" r="9.2"/><circle cx="1479.6" cy="120.2" r="9.2"/><circle cx="1455.6" cy="127.1" r="9.2"/><circle cx="1431.7" cy="134.7" r="9.2"/><circle cx="1407.7" cy="142.6" r="9.2"/><circle cx="1393.7" cy="147.1" r="9.2"/><circle cx="1379.7" cy="151.7" r="9.2"/><circle cx="1365.7" cy="156.2" r="9.2"/><circle cx="1351.7" cy="160.6" r="9.2"/><circle cx="1337.7" cy="165.1" r="9.2"/><circle cx="1323.7" cy="169.6" r="9.2"/><circle cx="1309.8" cy="174.2" r="9.2"/><circle cx="1295.8" cy="178.8" r="9.2"/><circle cx="1281.8" cy="183.3" r="9.2"/><circle cx="1267.8" cy="187.9" r="9.2"/><circle cx="1253.8" cy="192.5" r="9.2"/><circle cx="1239.8" cy="197.2" r="9.2"/><circle cx="1225.8" cy="201.9" r="9.2"/><circle cx="1211.8" cy="206.6" r="9.2"/><circle cx="1197.8" cy="211.2" r="9.2"/><circle cx="1183.8" cy="215.8" r="9.2"/><circle cx="1169.8" cy="220.3" r="9.2"/><circle cx="1155.8" cy="225.1" r="9.2"/><circle cx="1141.8" cy="230.4" r="9.2"/><circle cx="1127.8" cy="236.1" r="9.2"/><circle cx="1113.9" cy="242.2" r="9.2"/><circle cx="1099.9" cy="248.6" r="9.2"/><circle cx="1085.9" cy="254.6" r="9.2"/><circle cx="1071.9" cy="260.8" r="9.2"/><circle cx="1057.9" cy="267.4" r="9.2"/><circle cx="1043.9" cy="274.8" r="9.2"/><circle cx="1029.9" cy="283.5" r="9.2"/><circle cx="1024.3" cy="287.3" r="9.2"/><circle cx="1019.5" cy="290.8" r="9.2"/><circle cx="1014.8" cy="294.4" r="9.2"/><circle cx="1010.0" cy="298.2" r="9.2"/><circle cx="1005.2" cy="302.1" r="9.2"/><circle cx="1000.4" cy="306.3" r="9.2"/><circle cx="995.6" cy="310.7" r="9.2"/><circle cx="990.8" cy="315.5" r="9.2"/><circle cx="986.0" cy="320.9" r="9.2"/><circle cx="981.2" cy="327.3" r="9.2"/><circle cx="976.4" cy="334.6" r="9.2"/><circle cx="974.0" cy="338.4" r="9.2"/><circle cx="971.6" cy="342.3" r="9.2"/><circle cx="969.2" cy="346.4" r="9.2"/><circle cx="966.8" cy="350.7" r="9.2"/><circle cx="964.4" cy="355.3" r="9.2"/><circle cx="962.0" cy="360.3" r="9.2"/><circle cx="959.6" cy="365.9" r="9.2"/><circle cx="957.3" cy="372.8" r="9.2"/><circle cx="954.9" cy="380.7" r="9.2"/><circle cx="952.5" cy="389.1" r="9.2"/><circle cx="950.1" cy="397.5" r="9.2"/><circle cx="947.7" cy="406.8" r="9.2"/><circle cx="945.3" cy="416.2" r="9.2"/><circle cx="942.9" cy="426.9" r="9.2"/><circle cx="940.5" cy="439.8" r="9.2"/><circle cx="938.1" cy="454.9" r="9.2"/><circle cx="935.7" cy="474.0" r="9.2"/><circle cx="933.3" cy="506.9" r="9.2"/><circle cx="930.9" cy="543.1" r="9.2"/><circle cx="928.5" cy="568.6" r="9.2"/><circle cx="926.1" cy="589.6" r="9.2"/><circle cx="923.7" cy="603.4" r="9.2"/><circle cx="921.3" cy="614.6" r="9.2"/><circle cx="918.9" cy="629.6" r="9.2"/><circle cx="916.5" cy="658.3" r="9.2"/><circle cx="914.1" cy="680.5" r="9.2"/><circle cx="911.7" cy="693.8" r="9.2"/><circle cx="909.3" cy="705.5" r="9.2"/><circle cx="906.9" cy="721.6" r="9.2"/><circle cx="904.5" cy="737.2" r="9.2"/><circle cx="902.1" cy="748.2" r="9.2"/><circle cx="899.7" cy="760.5" r="9.2"/><circle cx="897.4" cy="777.3" r="9.2"/><circle cx="895.0" cy="790.2" r="9.2"/><circle cx="892.6" cy="798.9" r="9.2"/><circle cx="890.2" cy="804.2" r="9.2"/><circle cx="887.8" cy="808.4" r="9.2"/><circle cx="885.4" cy="812.9" r="9.2"/><circle cx="883.0" cy="817.9" r="9.2"/><circle cx="880.6" cy="823.1" r="9.2"/><circle cx="875.8" cy="832.5" r="9.2"/><circle cx="871.0" cy="841.0" r="9.2"/><circle cx="866.2" cy="848.8" r="9.2"/><circle cx="861.4" cy="855.8" r="9.2"/><circle cx="856.6" cy="861.8" r="9.2"/><circle cx="851.8" cy="867.3" r="9.2"/><circle cx="847.0" cy="872.4" r="9.2"/><circle cx="842.2" cy="877.1" r="9.2"/><circle cx="837.5" cy="881.4" r="9.2"/><circle cx="832.7" cy="885.5" r="9.2"/><circle cx="827.1" cy="890.0" r="9.2"/><circle cx="813.1" cy="899.9" r="9.2"/><circle cx="799.1" cy="907.6" r="9.2"/><circle cx="785.1" cy="913.9" r="9.2"/><circle cx="771.1" cy="919.2" r="9.2"/><circle cx="757.1" cy="924.3" r="9.2"/><circle cx="743.1" cy="930.6" r="9.2"/><circle cx="729.2" cy="936.3" r="9.2"/><circle cx="715.2" cy="940.6" r="9.2"/><circle cx="701.2" cy="944.8" r="9.2"/><circle cx="687.2" cy="949.3" r="9.2"/><circle cx="673.2" cy="953.9" r="9.2"/><circle cx="659.2" cy="958.8" r="9.2"/><circle cx="645.2" cy="964.1" r="9.2"/><circle cx="631.2" cy="970.5" r="9.2"/><circle cx="617.2" cy="976.7" r="9.2"/><circle cx="603.2" cy="982.1" r="9.2"/><circle cx="589.2" cy="987.3" r="9.2"/><circle cx="575.2" cy="992.0" r="9.2"/><circle cx="561.2" cy="996.4" r="9.2"/><circle cx="547.2" cy="1000.1" r="9.2"/><circle cx="533.3" cy="1003.6" r="9.2"/><circle cx="519.3" cy="1006.9" r="9.2"/><circle cx="505.3" cy="1010.5" r="9.2"/><circle cx="491.3" cy="1014.4" r="9.2"/><circle cx="477.3" cy="1018.3" r="9.2"/><circle cx="463.3" cy="1022.4" r="9.2"/><circle cx="449.3" cy="1026.7" r="9.2"/><circle cx="425.3" cy="1034.5" r="9.2"/><circle cx="401.4" cy="1042.4" r="9.2"/><circle cx="377.4" cy="1049.4" r="9.2"/><circle cx="353.5" cy="1056.1" r="9.2"/><circle cx="329.5" cy="1062.3" r="9.2"/><circle cx="305.5" cy="1069.1" r="9.2"/><circle cx="281.6" cy="1075.7" r="9.2"/><circle cx="257.6" cy="1081.3" r="9.2"/><circle cx="233.7" cy="1089.1" r="9.2"/><circle cx="209.7" cy="1094.7" r="9.2"/><circle cx="185.7" cy="1101.3" r="9.2"/><circle cx="161.8" cy="1108.0" r="9.2"/><circle cx="137.8" cy="1113.7" r="9.2"/><circle cx="113.9" cy="1120.3" r="9.2"/><circle cx="99.5" cy="1123.6" r="9.2"/><circle cx="113.9" cy="1120.3" r="9.2"/><circle cx="137.8" cy="1113.7" r="9.2"/><circle cx="161.8" cy="1108.0" r="9.2"/><circle cx="185.7" cy="1101.3" r="9.2"/><circle cx="209.7" cy="1094.7" r="9.2"/><circle cx="233.7" cy="1089.1" r="9.2"/><circle cx="257.6" cy="1081.3" r="9.2"/><circle cx="281.6" cy="1075.7" r="9.2"/><circle cx="305.5" cy="1069.1" r="9.2"/><circle cx="329.5" cy="1062.3" r="9.2"/><circle cx="353.5" cy="1056.1" r="9.2"/><circle cx="377.4" cy="1049.4" r="9.2"/><circle cx="401.4" cy="1042.4" r="9.2"/><circle cx="425.3" cy="1034.5" r="9.2"/><circle cx="449.3" cy="1026.7" r="9.2"/><circle cx="463.3" cy="1022.7" r="9.2"/><circle cx="477.3" cy="1018.9" r="9.2"/><circle cx="491.3" cy="1015.2" r="9.2"/><circle cx="505.3" cy="1011.6" r="9.2"/><circle cx="519.3" cy="1008.3" r="9.2"/><circle cx="533.3" cy="1005.2" r="9.2"/><circle cx="547.2" cy="1002.1" r="9.2"/><circle cx="561.2" cy="998.5" r="9.2"/><circle cx="575.2" cy="994.3" r="9.2"/><circle cx="589.2" cy="989.7" r="9.2"/><circle cx="603.2" cy="984.7" r="9.2"/><circle cx="617.2" cy="979.4" r="9.2"/><circle cx="631.2" cy="973.4" r="9.2"/><circle cx="645.2" cy="967.2" r="9.2"/><circle cx="659.2" cy="962.0" r="9.2"/><circle cx="673.2" cy="957.2" r="9.2"/><circle cx="687.2" cy="952.8" r="9.2"/><circle cx="701.2" cy="948.4" r="9.2"/><circle cx="715.2" cy="944.6" r="9.2"/><circle cx="729.2" cy="940.6" r="9.2"/><circle cx="743.1" cy="935.5" r="9.2"/><circle cx="757.1" cy="929.6" r="9.2"/><circle cx="771.1" cy="924.8" r="9.2"/><circle cx="785.1" cy="920.2" r="9.2"/><circle cx="799.1" cy="914.7" r="9.2"/><circle cx="813.1" cy="908.1" r="9.2"/><circle cx="827.1" cy="899.7" r="9.2"/><circle cx="832.7" cy="895.8" r="9.2"/><circle cx="837.5" cy="892.2" r="9.2"/><circle cx="842.2" cy="888.5" r="9.2"/><circle cx="847.0" cy="884.4" r="9.2"/><circle cx="851.8" cy="880.1" r="9.2"/><circle cx="856.6" cy="875.5" r="9.2"/><circle cx="861.4" cy="870.4" r="9.2"/><circle cx="866.2" cy="865.0" r="9.2"/><circle cx="871.0" cy="858.8" r="9.2"/><circle cx="875.8" cy="851.7" r="9.2"/><circle cx="880.6" cy="844.0" r="9.2"/><circle cx="883.0" cy="840.0" r="9.2"/><circle cx="885.4" cy="835.8" r="9.2"/><circle cx="887.8" cy="831.3" r="9.2"/><circle cx="890.2" cy="826.6" r="9.2"/><circle cx="892.6" cy="821.8" r="9.2"/><circle cx="895.0" cy="817.2" r="9.2"/><circle cx="897.4" cy="813.2" r="9.2"/><circle cx="899.7" cy="809.2" r="9.2"/><circle cx="902.1" cy="803.8" r="9.2"/><circle cx="904.5" cy="795.0" r="9.2"/><circle cx="906.9" cy="782.7" r="9.2"/><circle cx="909.3" cy="766.5" r="9.2"/><circle cx="911.7" cy="753.3" r="9.2"/><circle cx="914.1" cy="741.2" r="9.2"/><circle cx="916.5" cy="724.0" r="9.2"/><circle cx="918.9" cy="707.0" r="9.2"/><circle cx="921.3" cy="687.6" r="9.2"/><circle cx="923.7" cy="650.7" r="9.2"/><circle cx="926.1" cy="617.6" r="9.2"/><circle cx="928.5" cy="601.2" r="9.2"/><circle cx="930.9" cy="586.1" r="9.2"/><circle cx="933.3" cy="568.4" r="9.2"/><circle cx="935.7" cy="548.3" r="9.2"/><circle cx="938.1" cy="521.8" r="9.2"/><circle cx="940.5" cy="493.1" r="9.2"/><circle cx="942.9" cy="474.7" r="9.2"/><circle cx="945.3" cy="460.9" r="9.2"/><circle cx="947.7" cy="449.3" r="9.2"/><circle cx="950.1" cy="439.1" r="9.2"/><circle cx="952.5" cy="428.9" r="9.2"/><circle cx="954.9" cy="419.8" r="9.2"/><circle cx="957.3" cy="411.3" r="9.2"/><circle cx="959.6" cy="402.7" r="9.2"/><circle cx="962.0" cy="393.5" r="9.2"/><circle cx="964.4" cy="384.7" r="9.2"/><circle cx="966.8" cy="376.9" r="9.2"/><circle cx="969.2" cy="370.5" r="9.2"/><circle cx="971.6" cy="364.9" r="9.2"/><circle cx="974.0" cy="359.7" r="9.2"/><circle cx="976.4" cy="355.0" r="9.2"/><circle cx="981.2" cy="346.2" r="9.2"/><circle cx="986.0" cy="338.0" r="9.2"/><circle cx="990.8" cy="330.8" r="9.2"/><circle cx="995.6" cy="324.7" r="9.2"/><circle cx="1000.4" cy="319.2" r="9.2"/><circle cx="1005.2" cy="314.2" r="9.2"/><circle cx="1010.0" cy="309.6" r="9.2"/><circle cx="1014.8" cy="305.3" r="9.2"/><circle cx="1019.5" cy="301.1" r="9.2"/><circle cx="1024.3" cy="297.0" r="9.2"/><circle cx="1029.9" cy="292.5" r="9.2"/><circle cx="1043.9" cy="282.5" r="9.2"/><circle cx="1057.9" cy="274.2" r="9.2"/><circle cx="1071.9" cy="266.9" r="9.2"/><circle cx="1085.9" cy="260.1" r="9.2"/><circle cx="1099.9" cy="253.6" r="9.2"/><circle cx="1113.9" cy="247.4" r="9.2"/><circle cx="1127.8" cy="241.4" r="9.2"/><circle cx="1141.8" cy="235.8" r="9.2"/><circle cx="1155.8" cy="230.7" r="9.2"/><circle cx="1169.8" cy="226.0" r="9.2"/><circle cx="1183.8" cy="221.6" r="9.2"/><circle cx="1197.8" cy="217.2" r="9.2"/><circle cx="1211.8" cy="212.6" r="9.2"/><circle cx="1225.8" cy="207.9" r="9.2"/><circle cx="1239.8" cy="203.2" r="9.2"/><circle cx="1253.8" cy="198.5" r="9.2"/><circle cx="1267.8" cy="193.9" r="9.2"/><circle cx="1281.8" cy="189.3" r="9.2"/><circle cx="1295.8" cy="184.8" r="9.2"/><circle cx="1309.8" cy="180.8" r="9.2"/><circle cx="1323.7" cy="177.0" r="9.2"/><circle cx="1337.7" cy="173.4" r="9.2"/><circle cx="1351.7" cy="169.7" r="9.2"/><circle cx="1365.7" cy="166.1" r="9.2"/><circle cx="1379.7" cy="162.5" r="9.2"/><circle cx="1393.7" cy="158.7" r="9.2"/><circle cx="1407.7" cy="154.7" r="9.2"/><circle cx="1431.7" cy="147.2" r="9.2"/><circle cx="1455.6" cy="139.9" r="9.2"/><circle cx="1479.6" cy="133.4" r="9.2"/><circle cx="1503.5" cy="126.9" r="9.2"/><circle cx="1527.5" cy="120.2" r="9.2"/><circle cx="1551.5" cy="113.5" r="9.2"/><circle cx="1575.4" cy="107.0" r="9.2"/><circle cx="1599.4" cy="100.4" r="9.2"/><circle cx="1623.3" cy="93.7" r="9.2"/><circle cx="1647.3" cy="86.9" r="9.2"/><circle cx="1671.3" cy="80.6" r="9.2"/><circle cx="1695.2" cy="76.3" r="9.2"/><circle cx="1719.2" cy="69.4" r="9.2"/><circle cx="1743.1" cy="63.1" r="9.2"/><circle cx="1757.5" cy="59.3" r="9.2"/></g>
<rect x="64.6" y="14" width="1726.4" height="1127.5" fill="none" stroke="#000" stroke-width="6.2"/>
<g font-family="'DejaVu Sans Condensed','DejaVu Sans',sans-serif" font-weight="normal" stroke="#000" stroke-width="1.7" font-size="37" fill="#000" letter-spacing="3.8"><text x="69.8" y="650.5" text-anchor="middle">-18000</text>
<text x="211.6" y="650.5" text-anchor="middle">-15000</text>
<text x="355.4" y="650.5" text-anchor="middle">-12000</text>
<text x="499.1" y="650.5" text-anchor="middle">-9000</text>
<text x="642.9" y="650.5" text-anchor="middle">-6000</text>
<text x="786.6" y="650.5" text-anchor="middle">-3000</text>
<text x="930.4" y="650.5" text-anchor="middle">0</text>
<text x="1074.2" y="650.5" text-anchor="middle">3000</text>
<text x="1217.9" y="650.5" text-anchor="middle">6000</text>
<text x="1361.7" y="650.5" text-anchor="middle">9000</text>
<text x="1505.4" y="650.5" text-anchor="middle">12000</text>
<text x="1649.2" y="650.5" text-anchor="middle">15000</text>
<text x="1790.5" y="650.5" text-anchor="middle">18000</text>
<text x="889.5" y="1155.0" text-anchor="end">-0.06</text>
<text x="889.5" y="967.0" text-anchor="end">-0.04</text>
<text x="889.5" y="779.1" text-anchor="end">-0.02</text>
<text x="889.5" y="591.2" text-anchor="end">0</text>
<text x="889.5" y="403.3" text-anchor="end">0.02</text>
<text x="889.5" y="215.4" text-anchor="end">0.04</text>
<text x="889.5" y="27.4" text-anchor="end">0.06</text></g>
<rect x="80" y="29.3" width="362.3" height="252.4" fill="#fff" stroke="#000" stroke-width="6"/>
<path d="M124.5 60.3H181" stroke="#FF0000" stroke-width="6.2" stroke-linecap="round"/>
<path d="M153 49.599999999999994L159 60.3L153 71.0L147 60.3Z" fill="#FF0000"/>
<text x="185.8" y="72.5" font-family="'DejaVu Sans',sans-serif" font-weight="normal" stroke="#000" stroke-width="1.8" font-size="35" letter-spacing="-1.5">ZnO</text>
<path d="M124.5 123.8H181" stroke="#984807" stroke-width="6.2" stroke-linecap="round"/>
<path d="M145.4 116.2h15.2v15.2h-15.2Z" fill="#984807"/>
<text x="185.8" y="136.0" font-family="'DejaVu Sans',sans-serif" font-weight="normal" stroke="#000" stroke-width="1.8" font-size="35" letter-spacing="0.0">Zn/CuO</text>
<path d="M124.5 187H181" stroke="#00B050" stroke-width="6.2" stroke-linecap="round"/>
<path d="M153 178.4L161.8 195.6L144.2 195.6Z" fill="#0070C0" stroke="#00B050" stroke-width="2.2"/>
<text x="185.8" y="199.2" font-family="'DejaVu Sans',sans-serif" font-weight="normal" stroke="#000" stroke-width="1.8" font-size="35" letter-spacing="0.2">ZnO/Fe2O3</text>
<path d="M124.5 250.4H181" stroke="#0070C0" stroke-width="6.2" stroke-linecap="round"/>
<circle cx="153" cy="250.4" r="9.8" fill="#0070C0"/>
<text x="185.8" y="262.6" font-family="'DejaVu Sans',sans-serif" font-weight="normal" stroke="#000" stroke-width="1.8" font-size="35" letter-spacing="0.55">ZnO/Mn3O4</text>
<text x="1274.35 1311 1316.2 1333.8 1371.9 1400.85" y="737.7" font-family="'DejaVu Sans',sans-serif" font-weight="normal" stroke="#000" stroke-width="1.9" font-size="49">H (Oe)</text>
<text transform="translate(773.4 347.95) rotate(-90)" x="0 42.3 57.75 75.5 104 151.85 183.35 200.75 230.9" y="0" font-family="'DejaVu Sans',sans-serif" font-weight="normal" stroke="#000" stroke-width="1.9" font-size="49">M (emu/g)</text>
</svg>
</body></html>
